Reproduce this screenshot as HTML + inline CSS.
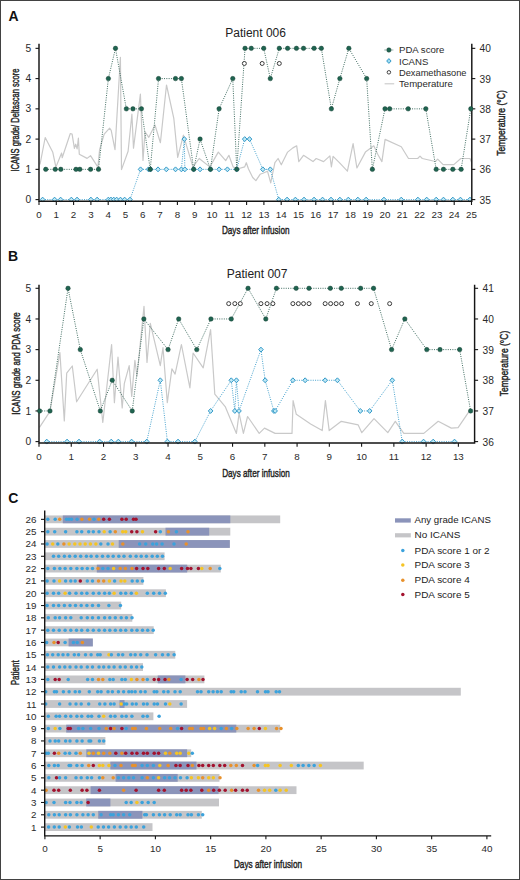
<!DOCTYPE html><html><head><meta charset="utf-8"><style>html,body{margin:0;padding:0;background:#fff;width:520px;height:880px;overflow:hidden;}svg{display:block;}text{font-family:"Liberation Sans", sans-serif;}</style></head><body>
<svg width="520" height="880" viewBox="0 0 520 880">
<rect x="0" y="0" width="520" height="880" fill="#fff"/>
<polyline points="40,164.5 45.2,137.5 52.8,152.3 55.9,167.1 61.6,153 62.2,157.7 70.3,133.5 72.1,134.1 74.4,148.3 75.7,144.2 77.1,148.9 78.4,138.2 79.3,154.3 87.1,158.4 90.5,155.7 97.9,167.1 99.6,149.6 104.2,134.2 109.6,128.1 111.2,130.4 115,149.6 120.4,57.3 121.5,169.6 128.1,151.2 131.9,114.2 133.5,148.1 140.4,94.2 143,160.4 145,131.9 148.8,137.3 155,125 160.4,142.7 166.5,85 173.8,118.3 177.7,157.4 183.4,135.2 192.9,166.9 199.2,158.5 209.8,166.9 218.3,152.1 225.7,160.6 228.9,155.3 233.1,166.9 237.3,169 244.7,166.9 246.3,162.7 248.5,169 252.7,177.5 255.9,180.7 260.1,174.3 262.8,173.3 267.5,171.2 270.7,182.8 274.9,162.7 278.1,158.5 281.3,164.8 287.6,152.1 292.9,147.9 296.7,145.8 298.8,161.6 303.5,155.3 313,161.6 316.2,158.5 323.6,161.6 329.9,155.9 331.4,166.9 333.1,156.4 339.4,162.7 347.4,171.2 353.1,143.7 356.9,168 365.4,152.1 373.8,145.8 377.7,154.2 381.9,161.6 385.1,139.4 401.3,146.8 408.5,158.5 417.7,158.5 420,156.2 422.3,158.5 435.4,161.5 437.7,159.2 443.1,164.6 453.8,164.6 460.8,158.5 470,158.5 471.5,162.3" fill="none" stroke="#c9c9c9" stroke-width="1.2" stroke-linejoin="round"/>
<polyline points="42.63,199.6 54.57,199.6 60.62,199.6 71.35,199.6 77.06,199.6 90.9,199.6 97.13,199.6 108.37,199.6 110.97,199.6 113.74,199.6 116.68,199.6 120.48,199.6 124.64,199.6 130,199.6 140.55,169.35 148.51,169.35 150.59,169.35 158.02,169.35 166.33,169.35 175.5,169.35 181.38,169.35 184.32,139.1 184.84,169.35 193.66,169.35 200.06,169.35 210.44,169.35 219.09,169.35 227.4,169.35 236.74,169.35 244.7,139.1 249.54,139.1 262.86,169.35 270.3,169.35 278.78,199.6 287.08,199.6 295.39,199.6 304.04,199.6 314.07,199.6 322.55,199.6 331.02,199.6 339.85,199.6 348.32,199.6 357.84,199.6 366.14,199.6 383.96,199.6 401.26,199.6 417.87,199.6 426.69,199.6 436.21,199.6 443.47,199.6 452.82,199.6 460.43,199.6 469.94,199.6" fill="none" stroke="#3399c8" stroke-width="0.9" stroke-dasharray="1 1.3"/>
<polyline points="45.75,169.35 55.26,169.35 60.8,169.35 76.02,169.35 79.83,169.35 90.55,169.35 98.51,169.35 108.37,78.6 115.47,48.35 126.36,108.85 132.94,108.85 141.42,108.85 150.24,169.35 158.54,78.6 175.5,78.6 181.38,78.6 193.66,169.35 200.06,139.1 210.44,169.35 219.09,108.85 232.76,78.6 236.74,169.35 245.04,48.35 251.27,48.35 263.73,48.35 270.3,78.6 279.3,48.35 287.6,48.35 296.42,48.35 303.52,48.35 314.07,48.35 321.34,48.35 331.37,108.85 339.85,78.6 348.84,48.35 366.66,78.6 372.37,169.35 385,108.85 389.67,108.85 408.18,108.85 425.83,108.85 436.21,169.35 443.47,169.35 452.82,169.35 461.12,169.35 470.81,108.85" fill="none" stroke="#2b5e50" stroke-width="0.9" stroke-dasharray="1 1.3"/>
<path d="M42.63 197.15L44.93 199.6L42.63 202.05L40.33 199.6Z" fill="#bfe9f6" stroke="#3399c8" stroke-width="1"/>
<path d="M54.57 197.15L56.87 199.6L54.57 202.05L52.27 199.6Z" fill="#bfe9f6" stroke="#3399c8" stroke-width="1"/>
<path d="M60.62 197.15L62.92 199.6L60.62 202.05L58.33 199.6Z" fill="#bfe9f6" stroke="#3399c8" stroke-width="1"/>
<path d="M71.35 197.15L73.65 199.6L71.35 202.05L69.05 199.6Z" fill="#bfe9f6" stroke="#3399c8" stroke-width="1"/>
<path d="M77.06 197.15L79.36 199.6L77.06 202.05L74.76 199.6Z" fill="#bfe9f6" stroke="#3399c8" stroke-width="1"/>
<path d="M90.9 197.15L93.2 199.6L90.9 202.05L88.6 199.6Z" fill="#bfe9f6" stroke="#3399c8" stroke-width="1"/>
<path d="M97.13 197.15L99.43 199.6L97.13 202.05L94.83 199.6Z" fill="#bfe9f6" stroke="#3399c8" stroke-width="1"/>
<path d="M108.37 197.15L110.67 199.6L108.37 202.05L106.07 199.6Z" fill="#bfe9f6" stroke="#3399c8" stroke-width="1"/>
<path d="M110.97 197.15L113.27 199.6L110.97 202.05L108.67 199.6Z" fill="#bfe9f6" stroke="#3399c8" stroke-width="1"/>
<path d="M113.74 197.15L116.04 199.6L113.74 202.05L111.44 199.6Z" fill="#bfe9f6" stroke="#3399c8" stroke-width="1"/>
<path d="M116.68 197.15L118.98 199.6L116.68 202.05L114.38 199.6Z" fill="#bfe9f6" stroke="#3399c8" stroke-width="1"/>
<path d="M120.48 197.15L122.78 199.6L120.48 202.05L118.18 199.6Z" fill="#bfe9f6" stroke="#3399c8" stroke-width="1"/>
<path d="M124.64 197.15L126.94 199.6L124.64 202.05L122.34 199.6Z" fill="#bfe9f6" stroke="#3399c8" stroke-width="1"/>
<path d="M130 197.15L132.3 199.6L130 202.05L127.7 199.6Z" fill="#bfe9f6" stroke="#3399c8" stroke-width="1"/>
<path d="M140.55 166.9L142.85 169.35L140.55 171.8L138.25 169.35Z" fill="#bfe9f6" stroke="#3399c8" stroke-width="1"/>
<path d="M148.51 166.9L150.81 169.35L148.51 171.8L146.21 169.35Z" fill="#bfe9f6" stroke="#3399c8" stroke-width="1"/>
<path d="M150.59 166.9L152.89 169.35L150.59 171.8L148.28 169.35Z" fill="#bfe9f6" stroke="#3399c8" stroke-width="1"/>
<path d="M158.02 166.9L160.32 169.35L158.02 171.8L155.72 169.35Z" fill="#bfe9f6" stroke="#3399c8" stroke-width="1"/>
<path d="M166.33 166.9L168.63 169.35L166.33 171.8L164.03 169.35Z" fill="#bfe9f6" stroke="#3399c8" stroke-width="1"/>
<path d="M175.5 166.9L177.8 169.35L175.5 171.8L173.2 169.35Z" fill="#bfe9f6" stroke="#3399c8" stroke-width="1"/>
<path d="M181.38 166.9L183.68 169.35L181.38 171.8L179.08 169.35Z" fill="#bfe9f6" stroke="#3399c8" stroke-width="1"/>
<path d="M184.32 136.65L186.62 139.1L184.32 141.55L182.02 139.1Z" fill="#bfe9f6" stroke="#3399c8" stroke-width="1"/>
<path d="M184.84 166.9L187.14 169.35L184.84 171.8L182.54 169.35Z" fill="#bfe9f6" stroke="#3399c8" stroke-width="1"/>
<path d="M193.66 166.9L195.96 169.35L193.66 171.8L191.36 169.35Z" fill="#bfe9f6" stroke="#3399c8" stroke-width="1"/>
<path d="M200.06 166.9L202.36 169.35L200.06 171.8L197.76 169.35Z" fill="#bfe9f6" stroke="#3399c8" stroke-width="1"/>
<path d="M210.44 166.9L212.74 169.35L210.44 171.8L208.14 169.35Z" fill="#bfe9f6" stroke="#3399c8" stroke-width="1"/>
<path d="M219.09 166.9L221.39 169.35L219.09 171.8L216.79 169.35Z" fill="#bfe9f6" stroke="#3399c8" stroke-width="1"/>
<path d="M227.4 166.9L229.7 169.35L227.4 171.8L225.1 169.35Z" fill="#bfe9f6" stroke="#3399c8" stroke-width="1"/>
<path d="M236.74 166.9L239.04 169.35L236.74 171.8L234.44 169.35Z" fill="#bfe9f6" stroke="#3399c8" stroke-width="1"/>
<path d="M244.7 136.65L247 139.1L244.7 141.55L242.4 139.1Z" fill="#bfe9f6" stroke="#3399c8" stroke-width="1"/>
<path d="M249.54 136.65L251.84 139.1L249.54 141.55L247.24 139.1Z" fill="#bfe9f6" stroke="#3399c8" stroke-width="1"/>
<path d="M262.86 166.9L265.16 169.35L262.86 171.8L260.56 169.35Z" fill="#bfe9f6" stroke="#3399c8" stroke-width="1"/>
<path d="M270.3 166.9L272.6 169.35L270.3 171.8L268 169.35Z" fill="#bfe9f6" stroke="#3399c8" stroke-width="1"/>
<path d="M278.78 197.15L281.08 199.6L278.78 202.05L276.48 199.6Z" fill="#bfe9f6" stroke="#3399c8" stroke-width="1"/>
<path d="M287.08 197.15L289.38 199.6L287.08 202.05L284.78 199.6Z" fill="#bfe9f6" stroke="#3399c8" stroke-width="1"/>
<path d="M295.39 197.15L297.69 199.6L295.39 202.05L293.09 199.6Z" fill="#bfe9f6" stroke="#3399c8" stroke-width="1"/>
<path d="M304.04 197.15L306.34 199.6L304.04 202.05L301.74 199.6Z" fill="#bfe9f6" stroke="#3399c8" stroke-width="1"/>
<path d="M314.07 197.15L316.37 199.6L314.07 202.05L311.77 199.6Z" fill="#bfe9f6" stroke="#3399c8" stroke-width="1"/>
<path d="M322.55 197.15L324.85 199.6L322.55 202.05L320.25 199.6Z" fill="#bfe9f6" stroke="#3399c8" stroke-width="1"/>
<path d="M331.02 197.15L333.32 199.6L331.02 202.05L328.72 199.6Z" fill="#bfe9f6" stroke="#3399c8" stroke-width="1"/>
<path d="M339.85 197.15L342.15 199.6L339.85 202.05L337.55 199.6Z" fill="#bfe9f6" stroke="#3399c8" stroke-width="1"/>
<path d="M348.32 197.15L350.62 199.6L348.32 202.05L346.02 199.6Z" fill="#bfe9f6" stroke="#3399c8" stroke-width="1"/>
<path d="M357.84 197.15L360.14 199.6L357.84 202.05L355.54 199.6Z" fill="#bfe9f6" stroke="#3399c8" stroke-width="1"/>
<path d="M366.14 197.15L368.44 199.6L366.14 202.05L363.84 199.6Z" fill="#bfe9f6" stroke="#3399c8" stroke-width="1"/>
<path d="M383.96 197.15L386.26 199.6L383.96 202.05L381.66 199.6Z" fill="#bfe9f6" stroke="#3399c8" stroke-width="1"/>
<path d="M401.26 197.15L403.56 199.6L401.26 202.05L398.96 199.6Z" fill="#bfe9f6" stroke="#3399c8" stroke-width="1"/>
<path d="M417.87 197.15L420.17 199.6L417.87 202.05L415.57 199.6Z" fill="#bfe9f6" stroke="#3399c8" stroke-width="1"/>
<path d="M426.69 197.15L428.99 199.6L426.69 202.05L424.39 199.6Z" fill="#bfe9f6" stroke="#3399c8" stroke-width="1"/>
<path d="M436.21 197.15L438.51 199.6L436.21 202.05L433.91 199.6Z" fill="#bfe9f6" stroke="#3399c8" stroke-width="1"/>
<path d="M443.47 197.15L445.77 199.6L443.47 202.05L441.17 199.6Z" fill="#bfe9f6" stroke="#3399c8" stroke-width="1"/>
<path d="M452.82 197.15L455.12 199.6L452.82 202.05L450.52 199.6Z" fill="#bfe9f6" stroke="#3399c8" stroke-width="1"/>
<path d="M460.43 197.15L462.73 199.6L460.43 202.05L458.13 199.6Z" fill="#bfe9f6" stroke="#3399c8" stroke-width="1"/>
<path d="M469.94 197.15L472.24 199.6L469.94 202.05L467.64 199.6Z" fill="#bfe9f6" stroke="#3399c8" stroke-width="1"/>
<path d="M39 43.8V201.2H471.8V43.8" fill="none" stroke="#151515" stroke-width="1.45"/>
<path d="M35.5 199.6H39" stroke="#151515" stroke-width="1.1"/>
<text x="28.4" y="203.2" font-size="10.2" text-anchor="middle" fill="#2a2a2a" >0</text>
<path d="M35.5 169.35H39" stroke="#151515" stroke-width="1.1"/>
<text x="28.4" y="172.95" font-size="10.2" text-anchor="middle" fill="#2a2a2a" >1</text>
<path d="M35.5 139.1H39" stroke="#151515" stroke-width="1.1"/>
<text x="28.4" y="142.7" font-size="10.2" text-anchor="middle" fill="#2a2a2a" >2</text>
<path d="M35.5 108.85H39" stroke="#151515" stroke-width="1.1"/>
<text x="28.4" y="112.45" font-size="10.2" text-anchor="middle" fill="#2a2a2a" >3</text>
<path d="M35.5 78.6H39" stroke="#151515" stroke-width="1.1"/>
<text x="28.4" y="82.2" font-size="10.2" text-anchor="middle" fill="#2a2a2a" >4</text>
<path d="M35.5 48.35H39" stroke="#151515" stroke-width="1.1"/>
<text x="28.4" y="51.95" font-size="10.2" text-anchor="middle" fill="#2a2a2a" >5</text>
<path d="M471.8 199.6H475.3" stroke="#151515" stroke-width="1.1"/>
<text x="479.5" y="203.6" font-size="10.2" text-anchor="start" fill="#2a2a2a" >35</text>
<path d="M471.8 169.35H475.3" stroke="#151515" stroke-width="1.1"/>
<text x="479.5" y="173.35" font-size="10.2" text-anchor="start" fill="#2a2a2a" >36</text>
<path d="M471.8 139.1H475.3" stroke="#151515" stroke-width="1.1"/>
<text x="479.5" y="143.1" font-size="10.2" text-anchor="start" fill="#2a2a2a" >37</text>
<path d="M471.8 108.85H475.3" stroke="#151515" stroke-width="1.1"/>
<text x="479.5" y="112.85" font-size="10.2" text-anchor="start" fill="#2a2a2a" >38</text>
<path d="M471.8 78.6H475.3" stroke="#151515" stroke-width="1.1"/>
<text x="479.5" y="82.6" font-size="10.2" text-anchor="start" fill="#2a2a2a" >39</text>
<path d="M471.8 48.35H475.3" stroke="#151515" stroke-width="1.1"/>
<text x="479.5" y="52.35" font-size="10.2" text-anchor="start" fill="#2a2a2a" >40</text>
<path d="M39 201.2V205" stroke="#151515" stroke-width="1.1"/>
<text x="39" y="217.8" font-size="9.8" text-anchor="middle" fill="#2a2a2a" >0</text>
<path d="M56.3 201.2V205" stroke="#151515" stroke-width="1.1"/>
<text x="56.3" y="217.8" font-size="9.8" text-anchor="middle" fill="#2a2a2a" >1</text>
<path d="M73.6 201.2V205" stroke="#151515" stroke-width="1.1"/>
<text x="73.6" y="217.8" font-size="9.8" text-anchor="middle" fill="#2a2a2a" >2</text>
<path d="M90.9 201.2V205" stroke="#151515" stroke-width="1.1"/>
<text x="90.9" y="217.8" font-size="9.8" text-anchor="middle" fill="#2a2a2a" >3</text>
<path d="M108.2 201.2V205" stroke="#151515" stroke-width="1.1"/>
<text x="108.2" y="217.8" font-size="9.8" text-anchor="middle" fill="#2a2a2a" >4</text>
<path d="M125.5 201.2V205" stroke="#151515" stroke-width="1.1"/>
<text x="125.5" y="217.8" font-size="9.8" text-anchor="middle" fill="#2a2a2a" >5</text>
<path d="M142.8 201.2V205" stroke="#151515" stroke-width="1.1"/>
<text x="142.8" y="217.8" font-size="9.8" text-anchor="middle" fill="#2a2a2a" >6</text>
<path d="M160.1 201.2V205" stroke="#151515" stroke-width="1.1"/>
<text x="160.1" y="217.8" font-size="9.8" text-anchor="middle" fill="#2a2a2a" >7</text>
<path d="M177.4 201.2V205" stroke="#151515" stroke-width="1.1"/>
<text x="177.4" y="217.8" font-size="9.8" text-anchor="middle" fill="#2a2a2a" >8</text>
<path d="M194.7 201.2V205" stroke="#151515" stroke-width="1.1"/>
<text x="194.7" y="217.8" font-size="9.8" text-anchor="middle" fill="#2a2a2a" >9</text>
<path d="M212 201.2V205" stroke="#151515" stroke-width="1.1"/>
<text x="212" y="217.8" font-size="9.8" text-anchor="middle" fill="#2a2a2a" >10</text>
<path d="M229.3 201.2V205" stroke="#151515" stroke-width="1.1"/>
<text x="229.3" y="217.8" font-size="9.8" text-anchor="middle" fill="#2a2a2a" >11</text>
<path d="M246.6 201.2V205" stroke="#151515" stroke-width="1.1"/>
<text x="246.6" y="217.8" font-size="9.8" text-anchor="middle" fill="#2a2a2a" >12</text>
<path d="M263.9 201.2V205" stroke="#151515" stroke-width="1.1"/>
<text x="263.9" y="217.8" font-size="9.8" text-anchor="middle" fill="#2a2a2a" >13</text>
<path d="M281.2 201.2V205" stroke="#151515" stroke-width="1.1"/>
<text x="281.2" y="217.8" font-size="9.8" text-anchor="middle" fill="#2a2a2a" >14</text>
<path d="M298.5 201.2V205" stroke="#151515" stroke-width="1.1"/>
<text x="298.5" y="217.8" font-size="9.8" text-anchor="middle" fill="#2a2a2a" >15</text>
<path d="M315.8 201.2V205" stroke="#151515" stroke-width="1.1"/>
<text x="315.8" y="217.8" font-size="9.8" text-anchor="middle" fill="#2a2a2a" >16</text>
<path d="M333.1 201.2V205" stroke="#151515" stroke-width="1.1"/>
<text x="333.1" y="217.8" font-size="9.8" text-anchor="middle" fill="#2a2a2a" >17</text>
<path d="M350.4 201.2V205" stroke="#151515" stroke-width="1.1"/>
<text x="350.4" y="217.8" font-size="9.8" text-anchor="middle" fill="#2a2a2a" >18</text>
<path d="M367.7 201.2V205" stroke="#151515" stroke-width="1.1"/>
<text x="367.7" y="217.8" font-size="9.8" text-anchor="middle" fill="#2a2a2a" >19</text>
<path d="M385 201.2V205" stroke="#151515" stroke-width="1.1"/>
<text x="385" y="217.8" font-size="9.8" text-anchor="middle" fill="#2a2a2a" >20</text>
<path d="M402.3 201.2V205" stroke="#151515" stroke-width="1.1"/>
<text x="402.3" y="217.8" font-size="9.8" text-anchor="middle" fill="#2a2a2a" >21</text>
<path d="M419.6 201.2V205" stroke="#151515" stroke-width="1.1"/>
<text x="419.6" y="217.8" font-size="9.8" text-anchor="middle" fill="#2a2a2a" >22</text>
<path d="M436.9 201.2V205" stroke="#151515" stroke-width="1.1"/>
<text x="436.9" y="217.8" font-size="9.8" text-anchor="middle" fill="#2a2a2a" >23</text>
<path d="M454.2 201.2V205" stroke="#151515" stroke-width="1.1"/>
<text x="454.2" y="217.8" font-size="9.8" text-anchor="middle" fill="#2a2a2a" >24</text>
<path d="M471.5 201.2V205" stroke="#151515" stroke-width="1.1"/>
<text x="471.5" y="217.8" font-size="9.8" text-anchor="middle" fill="#2a2a2a" >25</text>
<circle cx="244.35" cy="63.47" r="2.0" fill="#fff" stroke="#3a3a3a" stroke-width="1.0"/>
<circle cx="262.17" cy="63.47" r="2.0" fill="#fff" stroke="#3a3a3a" stroke-width="1.0"/>
<circle cx="279.3" cy="63.47" r="2.0" fill="#fff" stroke="#3a3a3a" stroke-width="1.0"/>
<circle cx="45.75" cy="169.35" r="2.25" fill="#1f6450" stroke="#173f34" stroke-width="0.45"/>
<circle cx="55.26" cy="169.35" r="2.25" fill="#1f6450" stroke="#173f34" stroke-width="0.45"/>
<circle cx="60.8" cy="169.35" r="2.25" fill="#1f6450" stroke="#173f34" stroke-width="0.45"/>
<circle cx="76.02" cy="169.35" r="2.25" fill="#1f6450" stroke="#173f34" stroke-width="0.45"/>
<circle cx="79.83" cy="169.35" r="2.25" fill="#1f6450" stroke="#173f34" stroke-width="0.45"/>
<circle cx="90.55" cy="169.35" r="2.25" fill="#1f6450" stroke="#173f34" stroke-width="0.45"/>
<circle cx="98.51" cy="169.35" r="2.25" fill="#1f6450" stroke="#173f34" stroke-width="0.45"/>
<circle cx="108.37" cy="78.6" r="2.25" fill="#1f6450" stroke="#173f34" stroke-width="0.45"/>
<circle cx="115.47" cy="48.35" r="2.25" fill="#1f6450" stroke="#173f34" stroke-width="0.45"/>
<circle cx="126.36" cy="108.85" r="2.25" fill="#1f6450" stroke="#173f34" stroke-width="0.45"/>
<circle cx="132.94" cy="108.85" r="2.25" fill="#1f6450" stroke="#173f34" stroke-width="0.45"/>
<circle cx="141.42" cy="108.85" r="2.25" fill="#1f6450" stroke="#173f34" stroke-width="0.45"/>
<circle cx="150.24" cy="169.35" r="2.25" fill="#1f6450" stroke="#173f34" stroke-width="0.45"/>
<circle cx="158.54" cy="78.6" r="2.25" fill="#1f6450" stroke="#173f34" stroke-width="0.45"/>
<circle cx="175.5" cy="78.6" r="2.25" fill="#1f6450" stroke="#173f34" stroke-width="0.45"/>
<circle cx="181.38" cy="78.6" r="2.25" fill="#1f6450" stroke="#173f34" stroke-width="0.45"/>
<circle cx="193.66" cy="169.35" r="2.25" fill="#1f6450" stroke="#173f34" stroke-width="0.45"/>
<circle cx="200.06" cy="139.1" r="2.25" fill="#1f6450" stroke="#173f34" stroke-width="0.45"/>
<circle cx="210.44" cy="169.35" r="2.25" fill="#1f6450" stroke="#173f34" stroke-width="0.45"/>
<circle cx="219.09" cy="108.85" r="2.25" fill="#1f6450" stroke="#173f34" stroke-width="0.45"/>
<circle cx="232.76" cy="78.6" r="2.25" fill="#1f6450" stroke="#173f34" stroke-width="0.45"/>
<circle cx="236.74" cy="169.35" r="2.25" fill="#1f6450" stroke="#173f34" stroke-width="0.45"/>
<circle cx="245.04" cy="48.35" r="2.25" fill="#1f6450" stroke="#173f34" stroke-width="0.45"/>
<circle cx="251.27" cy="48.35" r="2.25" fill="#1f6450" stroke="#173f34" stroke-width="0.45"/>
<circle cx="263.73" cy="48.35" r="2.25" fill="#1f6450" stroke="#173f34" stroke-width="0.45"/>
<circle cx="270.3" cy="78.6" r="2.25" fill="#1f6450" stroke="#173f34" stroke-width="0.45"/>
<circle cx="279.3" cy="48.35" r="2.25" fill="#1f6450" stroke="#173f34" stroke-width="0.45"/>
<circle cx="287.6" cy="48.35" r="2.25" fill="#1f6450" stroke="#173f34" stroke-width="0.45"/>
<circle cx="296.42" cy="48.35" r="2.25" fill="#1f6450" stroke="#173f34" stroke-width="0.45"/>
<circle cx="303.52" cy="48.35" r="2.25" fill="#1f6450" stroke="#173f34" stroke-width="0.45"/>
<circle cx="314.07" cy="48.35" r="2.25" fill="#1f6450" stroke="#173f34" stroke-width="0.45"/>
<circle cx="321.34" cy="48.35" r="2.25" fill="#1f6450" stroke="#173f34" stroke-width="0.45"/>
<circle cx="331.37" cy="108.85" r="2.25" fill="#1f6450" stroke="#173f34" stroke-width="0.45"/>
<circle cx="339.85" cy="78.6" r="2.25" fill="#1f6450" stroke="#173f34" stroke-width="0.45"/>
<circle cx="348.84" cy="48.35" r="2.25" fill="#1f6450" stroke="#173f34" stroke-width="0.45"/>
<circle cx="366.66" cy="78.6" r="2.25" fill="#1f6450" stroke="#173f34" stroke-width="0.45"/>
<circle cx="372.37" cy="169.35" r="2.25" fill="#1f6450" stroke="#173f34" stroke-width="0.45"/>
<circle cx="385" cy="108.85" r="2.25" fill="#1f6450" stroke="#173f34" stroke-width="0.45"/>
<circle cx="389.67" cy="108.85" r="2.25" fill="#1f6450" stroke="#173f34" stroke-width="0.45"/>
<circle cx="408.18" cy="108.85" r="2.25" fill="#1f6450" stroke="#173f34" stroke-width="0.45"/>
<circle cx="425.83" cy="108.85" r="2.25" fill="#1f6450" stroke="#173f34" stroke-width="0.45"/>
<circle cx="436.21" cy="169.35" r="2.25" fill="#1f6450" stroke="#173f34" stroke-width="0.45"/>
<circle cx="443.47" cy="169.35" r="2.25" fill="#1f6450" stroke="#173f34" stroke-width="0.45"/>
<circle cx="452.82" cy="169.35" r="2.25" fill="#1f6450" stroke="#173f34" stroke-width="0.45"/>
<circle cx="461.12" cy="169.35" r="2.25" fill="#1f6450" stroke="#173f34" stroke-width="0.45"/>
<circle cx="470.81" cy="108.85" r="2.25" fill="#1f6450" stroke="#173f34" stroke-width="0.45"/>
<text x="8.4" y="20.8" font-size="14" text-anchor="start" fill="#111" font-weight="bold" >A</text>
<text x="255.6" y="36.6" font-size="12" text-anchor="middle" fill="#222" >Patient 006</text>
<text x="19" y="120" font-size="11.3" text-anchor="middle" fill="#222" textLength="103" lengthAdjust="spacingAndGlyphs" transform="rotate(-90 19 120)" stroke="#222" stroke-width="0.42" >ICANS grade/ Deltascan score</text>
<text x="505.2" y="123" font-size="11.2" text-anchor="middle" fill="#222" textLength="65.5" lengthAdjust="spacingAndGlyphs" transform="rotate(-90 505.2 123)" stroke="#222" stroke-width="0.42" >Temperature (°C)</text>
<text x="255.7" y="234.3" font-size="11.6" text-anchor="middle" fill="#222" textLength="67.6" lengthAdjust="spacingAndGlyphs" stroke="#222" stroke-width="0.42" >Days after infusion</text>
<path d="M384.6 50H394" stroke="#2b5e50" stroke-width="0.9" stroke-dasharray="1 1.3"/>
<circle cx="388.9" cy="50" r="2.25" fill="#1f6450" stroke="#173f34" stroke-width="0.45"/>
<path d="M388.9 58.6L391.1 61L388.9 63.4L386.7 61Z" fill="#9fdcf2" stroke="#3399c8" stroke-width="1"/>
<circle cx="388.9" cy="72.3" r="1.75" fill="#fff" stroke="#3a3a3a" stroke-width="0.95"/>
<path d="M384.6 83.8H394.2" stroke="#c9c9c9" stroke-width="1.1"/>
<text x="399" y="53.4" font-size="9.6" text-anchor="start" fill="#2a2a2a" >PDA score</text>
<text x="399" y="64.6" font-size="9.6" text-anchor="start" fill="#2a2a2a" >ICANS</text>
<text x="399" y="75.7" font-size="9.6" text-anchor="start" fill="#2a2a2a" textLength="67.5" lengthAdjust="spacingAndGlyphs" >Dexamethasone</text>
<text x="399" y="87.2" font-size="9.6" text-anchor="start" fill="#2a2a2a" >Temperature</text>
<polyline points="39.5,427.3 50,411.4 59.9,352.5 64.3,420.9 66.7,373.2 72.3,366 76.6,401.8 97.2,369.2 102.8,422.5 111.6,344.5 114.4,402.7 118,357.2 122.2,408 124.3,383.7 129.2,365.7 131.7,396.4 134.9,360.4 137,376.3 144,306.4 147,362.5 150.3,323.4 160.3,365.7 163,347.7 167.3,402.7 171.9,368.9 175.1,374.1 181.4,344.5 189.9,387.9 193.1,353 203.2,367.8 210.6,329.7 214.8,394.2 225.4,406.9 236.4,433.4 239.1,413.3 243.4,433.4 247.6,416.5 259.2,433.4 264.5,428.1 275.1,433.4 292,433.4 293.1,400.6 296.3,414.3 310.6,423.9 322.2,430.6 325.4,400.6 329.2,430.6 341.3,421.3 358.2,424.9 361.8,432.7 374,418.6 387.8,432.7 395.3,421.3 403.8,433.4 423.8,433.4 438.2,421.3 451.3,428.1 458.1,427.7 470,410.1" fill="none" stroke="#c9c9c9" stroke-width="1.2" stroke-linejoin="round"/>
<polyline points="46.74,441.6 67.07,441.6 79,441.6 99.65,441.6 111.26,441.6 118.36,441.6 131.59,441.6 146.75,441.6 160.3,380.28 167.39,441.6 178.04,441.6 194.82,441.6 210.62,410.94 231.27,380.28 234.82,410.94 236.43,380.28 239.01,410.94 260.95,349.62 265.14,380.28 273.85,410.94 275.14,410.94 292.89,380.28 305.14,380.28 325.15,380.28 337.4,380.28 360.31,410.94 369.66,410.94 392.25,380.28 402.25,441.6 423.54,441.6 433.22,441.6 454.51,441.6" fill="none" stroke="#3399c8" stroke-width="0.9" stroke-dasharray="1 1.3"/>
<polyline points="39.65,410.94 49.97,410.94 68.03,288.3 80.29,349.62 100.29,410.94 112.23,380.28 132.23,410.94 143.84,318.96 168.04,349.62 178.69,318.96 196.75,349.62 210.95,318.96 231.27,318.96 248.04,288.3 265.79,318.96 276.43,288.3 296.11,288.3 309.02,288.3 330.31,288.3 341.28,288.3 360.63,288.3 373.54,288.3 391.6,349.62 404.83,318.96 426.77,349.62 439.99,349.62 459.67,349.62 470.64,410.94" fill="none" stroke="#2b5e50" stroke-width="0.9" stroke-dasharray="1 1.3"/>
<path d="M46.74 439.15L49.04 441.6L46.74 444.05L44.44 441.6Z" fill="#bfe9f6" stroke="#3399c8" stroke-width="1"/>
<path d="M67.07 439.15L69.37 441.6L67.07 444.05L64.77 441.6Z" fill="#bfe9f6" stroke="#3399c8" stroke-width="1"/>
<path d="M79 439.15L81.3 441.6L79 444.05L76.7 441.6Z" fill="#bfe9f6" stroke="#3399c8" stroke-width="1"/>
<path d="M99.65 439.15L101.95 441.6L99.65 444.05L97.35 441.6Z" fill="#bfe9f6" stroke="#3399c8" stroke-width="1"/>
<path d="M111.26 439.15L113.56 441.6L111.26 444.05L108.96 441.6Z" fill="#bfe9f6" stroke="#3399c8" stroke-width="1"/>
<path d="M118.36 439.15L120.66 441.6L118.36 444.05L116.06 441.6Z" fill="#bfe9f6" stroke="#3399c8" stroke-width="1"/>
<path d="M131.59 439.15L133.89 441.6L131.59 444.05L129.29 441.6Z" fill="#bfe9f6" stroke="#3399c8" stroke-width="1"/>
<path d="M146.75 439.15L149.05 441.6L146.75 444.05L144.45 441.6Z" fill="#bfe9f6" stroke="#3399c8" stroke-width="1"/>
<path d="M160.3 377.83L162.6 380.28L160.3 382.73L158 380.28Z" fill="#bfe9f6" stroke="#3399c8" stroke-width="1"/>
<path d="M167.39 439.15L169.69 441.6L167.39 444.05L165.09 441.6Z" fill="#bfe9f6" stroke="#3399c8" stroke-width="1"/>
<path d="M178.04 439.15L180.34 441.6L178.04 444.05L175.74 441.6Z" fill="#bfe9f6" stroke="#3399c8" stroke-width="1"/>
<path d="M194.82 439.15L197.12 441.6L194.82 444.05L192.52 441.6Z" fill="#bfe9f6" stroke="#3399c8" stroke-width="1"/>
<path d="M210.62 408.49L212.92 410.94L210.62 413.39L208.32 410.94Z" fill="#bfe9f6" stroke="#3399c8" stroke-width="1"/>
<path d="M231.27 377.83L233.57 380.28L231.27 382.73L228.97 380.28Z" fill="#bfe9f6" stroke="#3399c8" stroke-width="1"/>
<path d="M234.82 408.49L237.12 410.94L234.82 413.39L232.52 410.94Z" fill="#bfe9f6" stroke="#3399c8" stroke-width="1"/>
<path d="M236.43 377.83L238.73 380.28L236.43 382.73L234.13 380.28Z" fill="#bfe9f6" stroke="#3399c8" stroke-width="1"/>
<path d="M239.01 408.49L241.31 410.94L239.01 413.39L236.71 410.94Z" fill="#bfe9f6" stroke="#3399c8" stroke-width="1"/>
<path d="M260.95 347.17L263.25 349.62L260.95 352.07L258.65 349.62Z" fill="#bfe9f6" stroke="#3399c8" stroke-width="1"/>
<path d="M265.14 377.83L267.44 380.28L265.14 382.73L262.84 380.28Z" fill="#bfe9f6" stroke="#3399c8" stroke-width="1"/>
<path d="M273.85 408.49L276.15 410.94L273.85 413.39L271.55 410.94Z" fill="#bfe9f6" stroke="#3399c8" stroke-width="1"/>
<path d="M275.14 408.49L277.44 410.94L275.14 413.39L272.84 410.94Z" fill="#bfe9f6" stroke="#3399c8" stroke-width="1"/>
<path d="M292.89 377.83L295.19 380.28L292.89 382.73L290.59 380.28Z" fill="#bfe9f6" stroke="#3399c8" stroke-width="1"/>
<path d="M305.14 377.83L307.44 380.28L305.14 382.73L302.84 380.28Z" fill="#bfe9f6" stroke="#3399c8" stroke-width="1"/>
<path d="M325.15 377.83L327.45 380.28L325.15 382.73L322.85 380.28Z" fill="#bfe9f6" stroke="#3399c8" stroke-width="1"/>
<path d="M337.4 377.83L339.7 380.28L337.4 382.73L335.1 380.28Z" fill="#bfe9f6" stroke="#3399c8" stroke-width="1"/>
<path d="M360.31 408.49L362.61 410.94L360.31 413.39L358.01 410.94Z" fill="#bfe9f6" stroke="#3399c8" stroke-width="1"/>
<path d="M369.66 408.49L371.96 410.94L369.66 413.39L367.36 410.94Z" fill="#bfe9f6" stroke="#3399c8" stroke-width="1"/>
<path d="M392.25 377.83L394.55 380.28L392.25 382.73L389.95 380.28Z" fill="#bfe9f6" stroke="#3399c8" stroke-width="1"/>
<path d="M402.25 439.15L404.55 441.6L402.25 444.05L399.95 441.6Z" fill="#bfe9f6" stroke="#3399c8" stroke-width="1"/>
<path d="M423.54 439.15L425.84 441.6L423.54 444.05L421.24 441.6Z" fill="#bfe9f6" stroke="#3399c8" stroke-width="1"/>
<path d="M433.22 439.15L435.52 441.6L433.22 444.05L430.92 441.6Z" fill="#bfe9f6" stroke="#3399c8" stroke-width="1"/>
<path d="M454.51 439.15L456.81 441.6L454.51 444.05L452.21 441.6Z" fill="#bfe9f6" stroke="#3399c8" stroke-width="1"/>
<path d="M39 284.8V443H474.6V284.8" fill="none" stroke="#151515" stroke-width="1.45"/>
<path d="M35.5 441.6H39" stroke="#151515" stroke-width="1.1"/>
<text x="28.4" y="445.2" font-size="10.2" text-anchor="middle" fill="#2a2a2a" >0</text>
<path d="M35.5 410.94H39" stroke="#151515" stroke-width="1.1"/>
<text x="28.4" y="414.54" font-size="10.2" text-anchor="middle" fill="#2a2a2a" >1</text>
<path d="M35.5 380.28H39" stroke="#151515" stroke-width="1.1"/>
<text x="28.4" y="383.88" font-size="10.2" text-anchor="middle" fill="#2a2a2a" >2</text>
<path d="M35.5 349.62H39" stroke="#151515" stroke-width="1.1"/>
<text x="28.4" y="353.22" font-size="10.2" text-anchor="middle" fill="#2a2a2a" >3</text>
<path d="M35.5 318.96H39" stroke="#151515" stroke-width="1.1"/>
<text x="28.4" y="322.56" font-size="10.2" text-anchor="middle" fill="#2a2a2a" >4</text>
<path d="M35.5 288.3H39" stroke="#151515" stroke-width="1.1"/>
<text x="28.4" y="291.9" font-size="10.2" text-anchor="middle" fill="#2a2a2a" >5</text>
<path d="M474.6 441.6H478.1" stroke="#151515" stroke-width="1.1"/>
<text x="482.5" y="445.6" font-size="10.2" text-anchor="start" fill="#2a2a2a" >36</text>
<path d="M474.6 410.94H478.1" stroke="#151515" stroke-width="1.1"/>
<text x="482.5" y="414.94" font-size="10.2" text-anchor="start" fill="#2a2a2a" >37</text>
<path d="M474.6 380.28H478.1" stroke="#151515" stroke-width="1.1"/>
<text x="482.5" y="384.28" font-size="10.2" text-anchor="start" fill="#2a2a2a" >38</text>
<path d="M474.6 349.62H478.1" stroke="#151515" stroke-width="1.1"/>
<text x="482.5" y="353.62" font-size="10.2" text-anchor="start" fill="#2a2a2a" >39</text>
<path d="M474.6 318.96H478.1" stroke="#151515" stroke-width="1.1"/>
<text x="482.5" y="322.96" font-size="10.2" text-anchor="start" fill="#2a2a2a" >40</text>
<path d="M474.6 288.3H478.1" stroke="#151515" stroke-width="1.1"/>
<text x="482.5" y="292.3" font-size="10.2" text-anchor="start" fill="#2a2a2a" >41</text>
<path d="M39 443V446.8" stroke="#151515" stroke-width="1.1"/>
<text x="39" y="459.6" font-size="9.8" text-anchor="middle" fill="#2a2a2a" >0</text>
<path d="M71.26 443V446.8" stroke="#151515" stroke-width="1.1"/>
<text x="71.26" y="459.6" font-size="9.8" text-anchor="middle" fill="#2a2a2a" >1</text>
<path d="M103.52 443V446.8" stroke="#151515" stroke-width="1.1"/>
<text x="103.52" y="459.6" font-size="9.8" text-anchor="middle" fill="#2a2a2a" >2</text>
<path d="M135.78 443V446.8" stroke="#151515" stroke-width="1.1"/>
<text x="135.78" y="459.6" font-size="9.8" text-anchor="middle" fill="#2a2a2a" >3</text>
<path d="M168.04 443V446.8" stroke="#151515" stroke-width="1.1"/>
<text x="168.04" y="459.6" font-size="9.8" text-anchor="middle" fill="#2a2a2a" >4</text>
<path d="M200.3 443V446.8" stroke="#151515" stroke-width="1.1"/>
<text x="200.3" y="459.6" font-size="9.8" text-anchor="middle" fill="#2a2a2a" >5</text>
<path d="M232.56 443V446.8" stroke="#151515" stroke-width="1.1"/>
<text x="232.56" y="459.6" font-size="9.8" text-anchor="middle" fill="#2a2a2a" >6</text>
<path d="M264.82 443V446.8" stroke="#151515" stroke-width="1.1"/>
<text x="264.82" y="459.6" font-size="9.8" text-anchor="middle" fill="#2a2a2a" >7</text>
<path d="M297.08 443V446.8" stroke="#151515" stroke-width="1.1"/>
<text x="297.08" y="459.6" font-size="9.8" text-anchor="middle" fill="#2a2a2a" >8</text>
<path d="M329.34 443V446.8" stroke="#151515" stroke-width="1.1"/>
<text x="329.34" y="459.6" font-size="9.8" text-anchor="middle" fill="#2a2a2a" >9</text>
<path d="M361.6 443V446.8" stroke="#151515" stroke-width="1.1"/>
<text x="361.6" y="459.6" font-size="9.8" text-anchor="middle" fill="#2a2a2a" >10</text>
<path d="M393.86 443V446.8" stroke="#151515" stroke-width="1.1"/>
<text x="393.86" y="459.6" font-size="9.8" text-anchor="middle" fill="#2a2a2a" >11</text>
<path d="M426.12 443V446.8" stroke="#151515" stroke-width="1.1"/>
<text x="426.12" y="459.6" font-size="9.8" text-anchor="middle" fill="#2a2a2a" >12</text>
<path d="M458.38 443V446.8" stroke="#151515" stroke-width="1.1"/>
<text x="458.38" y="459.6" font-size="9.8" text-anchor="middle" fill="#2a2a2a" >13</text>
<circle cx="228.69" cy="303.63" r="2.0" fill="#fff" stroke="#3a3a3a" stroke-width="1.0"/>
<circle cx="234.82" cy="303.63" r="2.0" fill="#fff" stroke="#3a3a3a" stroke-width="1.0"/>
<circle cx="240.3" cy="303.63" r="2.0" fill="#fff" stroke="#3a3a3a" stroke-width="1.0"/>
<circle cx="260.95" cy="303.63" r="2.0" fill="#fff" stroke="#3a3a3a" stroke-width="1.0"/>
<circle cx="267.08" cy="303.63" r="2.0" fill="#fff" stroke="#3a3a3a" stroke-width="1.0"/>
<circle cx="272.88" cy="303.63" r="2.0" fill="#fff" stroke="#3a3a3a" stroke-width="1.0"/>
<circle cx="292.89" cy="303.63" r="2.0" fill="#fff" stroke="#3a3a3a" stroke-width="1.0"/>
<circle cx="298.37" cy="303.63" r="2.0" fill="#fff" stroke="#3a3a3a" stroke-width="1.0"/>
<circle cx="303.53" cy="303.63" r="2.0" fill="#fff" stroke="#3a3a3a" stroke-width="1.0"/>
<circle cx="309.02" cy="303.63" r="2.0" fill="#fff" stroke="#3a3a3a" stroke-width="1.0"/>
<circle cx="325.15" cy="303.63" r="2.0" fill="#fff" stroke="#3a3a3a" stroke-width="1.0"/>
<circle cx="330.63" cy="303.63" r="2.0" fill="#fff" stroke="#3a3a3a" stroke-width="1.0"/>
<circle cx="336.11" cy="303.63" r="2.0" fill="#fff" stroke="#3a3a3a" stroke-width="1.0"/>
<circle cx="341.6" cy="303.63" r="2.0" fill="#fff" stroke="#3a3a3a" stroke-width="1.0"/>
<circle cx="357.41" cy="303.63" r="2.0" fill="#fff" stroke="#3a3a3a" stroke-width="1.0"/>
<circle cx="371.28" cy="303.63" r="2.0" fill="#fff" stroke="#3a3a3a" stroke-width="1.0"/>
<circle cx="389.67" cy="303.63" r="2.0" fill="#fff" stroke="#3a3a3a" stroke-width="1.0"/>
<circle cx="39.65" cy="410.94" r="2.25" fill="#1f6450" stroke="#173f34" stroke-width="0.45"/>
<circle cx="49.97" cy="410.94" r="2.25" fill="#1f6450" stroke="#173f34" stroke-width="0.45"/>
<circle cx="68.03" cy="288.3" r="2.25" fill="#1f6450" stroke="#173f34" stroke-width="0.45"/>
<circle cx="80.29" cy="349.62" r="2.25" fill="#1f6450" stroke="#173f34" stroke-width="0.45"/>
<circle cx="100.29" cy="410.94" r="2.25" fill="#1f6450" stroke="#173f34" stroke-width="0.45"/>
<circle cx="112.23" cy="380.28" r="2.25" fill="#1f6450" stroke="#173f34" stroke-width="0.45"/>
<circle cx="132.23" cy="410.94" r="2.25" fill="#1f6450" stroke="#173f34" stroke-width="0.45"/>
<circle cx="143.84" cy="318.96" r="2.25" fill="#1f6450" stroke="#173f34" stroke-width="0.45"/>
<circle cx="168.04" cy="349.62" r="2.25" fill="#1f6450" stroke="#173f34" stroke-width="0.45"/>
<circle cx="178.69" cy="318.96" r="2.25" fill="#1f6450" stroke="#173f34" stroke-width="0.45"/>
<circle cx="196.75" cy="349.62" r="2.25" fill="#1f6450" stroke="#173f34" stroke-width="0.45"/>
<circle cx="210.95" cy="318.96" r="2.25" fill="#1f6450" stroke="#173f34" stroke-width="0.45"/>
<circle cx="231.27" cy="318.96" r="2.25" fill="#1f6450" stroke="#173f34" stroke-width="0.45"/>
<circle cx="248.04" cy="288.3" r="2.25" fill="#1f6450" stroke="#173f34" stroke-width="0.45"/>
<circle cx="265.79" cy="318.96" r="2.25" fill="#1f6450" stroke="#173f34" stroke-width="0.45"/>
<circle cx="276.43" cy="288.3" r="2.25" fill="#1f6450" stroke="#173f34" stroke-width="0.45"/>
<circle cx="296.11" cy="288.3" r="2.25" fill="#1f6450" stroke="#173f34" stroke-width="0.45"/>
<circle cx="309.02" cy="288.3" r="2.25" fill="#1f6450" stroke="#173f34" stroke-width="0.45"/>
<circle cx="330.31" cy="288.3" r="2.25" fill="#1f6450" stroke="#173f34" stroke-width="0.45"/>
<circle cx="341.28" cy="288.3" r="2.25" fill="#1f6450" stroke="#173f34" stroke-width="0.45"/>
<circle cx="360.63" cy="288.3" r="2.25" fill="#1f6450" stroke="#173f34" stroke-width="0.45"/>
<circle cx="373.54" cy="288.3" r="2.25" fill="#1f6450" stroke="#173f34" stroke-width="0.45"/>
<circle cx="391.6" cy="349.62" r="2.25" fill="#1f6450" stroke="#173f34" stroke-width="0.45"/>
<circle cx="404.83" cy="318.96" r="2.25" fill="#1f6450" stroke="#173f34" stroke-width="0.45"/>
<circle cx="426.77" cy="349.62" r="2.25" fill="#1f6450" stroke="#173f34" stroke-width="0.45"/>
<circle cx="439.99" cy="349.62" r="2.25" fill="#1f6450" stroke="#173f34" stroke-width="0.45"/>
<circle cx="459.67" cy="349.62" r="2.25" fill="#1f6450" stroke="#173f34" stroke-width="0.45"/>
<circle cx="470.64" cy="410.94" r="2.25" fill="#1f6450" stroke="#173f34" stroke-width="0.45"/>
<text x="8.1" y="260.9" font-size="14" text-anchor="start" fill="#111" font-weight="bold" >B</text>
<text x="257.1" y="277.6" font-size="12" text-anchor="middle" fill="#222" >Patient 007</text>
<text x="19.5" y="363.5" font-size="11.3" text-anchor="middle" fill="#222" textLength="102.5" lengthAdjust="spacingAndGlyphs" transform="rotate(-90 19.5 363.5)" stroke="#222" stroke-width="0.42" >ICANS grade and PDA score</text>
<text x="507.6" y="363.5" font-size="11.2" text-anchor="middle" fill="#222" textLength="65.5" lengthAdjust="spacingAndGlyphs" transform="rotate(-90 507.6 363.5)" stroke="#222" stroke-width="0.42" >Temperature (°C)</text>
<text x="256" y="476.5" font-size="11.6" text-anchor="middle" fill="#222" textLength="67.6" lengthAdjust="spacingAndGlyphs" stroke="#222" stroke-width="0.42" >Days after infusion</text>
<text x="8.2" y="502.6" font-size="14" text-anchor="start" fill="#111" font-weight="bold" >C</text>
<rect x="44.9" y="823.2" width="107.6" height="7.8" fill="#c5c5c8"/>
<rect x="44.9" y="810.89" width="156.9" height="7.8" fill="#c5c5c8"/>
<rect x="98.2" y="810.89" width="44.2" height="7.8" fill="#8b94ba"/>
<rect x="44.9" y="798.58" width="174.1" height="7.8" fill="#c5c5c8"/>
<rect x="86.2" y="798.58" width="24.2" height="7.8" fill="#8b94ba"/>
<rect x="44.9" y="786.27" width="251.6" height="7.8" fill="#c5c5c8"/>
<rect x="90.6" y="786.27" width="128" height="7.8" fill="#8b94ba"/>
<rect x="44.9" y="773.96" width="174.6" height="7.8" fill="#c5c5c8"/>
<rect x="115.6" y="773.96" width="62.1" height="7.8" fill="#8b94ba"/>
<rect x="44.9" y="761.65" width="318.8" height="7.8" fill="#c5c5c8"/>
<rect x="110.3" y="761.65" width="86.2" height="7.8" fill="#8b94ba"/>
<rect x="44.9" y="749.34" width="146.3" height="7.8" fill="#c5c5c8"/>
<rect x="86.3" y="749.34" width="100.8" height="7.8" fill="#8b94ba"/>
<rect x="44.9" y="737.03" width="60.5" height="7.8" fill="#c5c5c8"/>
<rect x="44.9" y="724.72" width="235.3" height="7.8" fill="#c5c5c8"/>
<rect x="66.2" y="724.72" width="170.1" height="7.8" fill="#8b94ba"/>
<rect x="44.9" y="712.41" width="108.5" height="7.8" fill="#c5c5c8"/>
<rect x="44.9" y="700.1" width="142.2" height="7.8" fill="#c5c5c8"/>
<rect x="119.5" y="700.1" width="5" height="7.8" fill="#8b94ba"/>
<rect x="44.9" y="687.79" width="415.9" height="7.8" fill="#c5c5c8"/>
<rect x="44.9" y="675.48" width="159.5" height="7.8" fill="#c5c5c8"/>
<rect x="157.7" y="675.48" width="27.7" height="7.8" fill="#8b94ba"/>
<rect x="44.9" y="663.17" width="98.1" height="7.8" fill="#c5c5c8"/>
<rect x="44.9" y="650.86" width="130.4" height="7.8" fill="#c5c5c8"/>
<rect x="44.9" y="638.55" width="47.9" height="7.8" fill="#c5c5c8"/>
<rect x="68.6" y="638.55" width="24.2" height="7.8" fill="#8b94ba"/>
<rect x="44.9" y="626.24" width="108.8" height="7.8" fill="#c5c5c8"/>
<rect x="44.9" y="613.93" width="87.4" height="7.8" fill="#c5c5c8"/>
<rect x="44.9" y="601.62" width="76.3" height="7.8" fill="#c5c5c8"/>
<rect x="44.9" y="589.31" width="121" height="7.8" fill="#c5c5c8"/>
<rect x="44.9" y="577" width="98.5" height="7.8" fill="#c5c5c8"/>
<rect x="44.9" y="564.69" width="175.9" height="7.8" fill="#c5c5c8"/>
<rect x="96.8" y="564.69" width="90.4" height="7.8" fill="#8b94ba"/>
<rect x="44.9" y="552.38" width="119.7" height="7.8" fill="#c5c5c8"/>
<rect x="44.9" y="540.07" width="184.9" height="7.8" fill="#c5c5c8"/>
<rect x="118.7" y="540.07" width="111.1" height="7.8" fill="#8b94ba"/>
<rect x="44.9" y="527.76" width="185.4" height="7.8" fill="#c5c5c8"/>
<rect x="165.5" y="527.76" width="43.7" height="7.8" fill="#8b94ba"/>
<rect x="44.9" y="515.45" width="235.3" height="7.8" fill="#c5c5c8"/>
<rect x="62.8" y="515.45" width="167.5" height="7.8" fill="#8b94ba"/>
<circle cx="48.6" cy="827.1" r="1.75" fill="#3ba2dc"/>
<circle cx="54.3" cy="827.1" r="1.75" fill="#3ba2dc"/>
<circle cx="59.2" cy="827.1" r="1.75" fill="#3ba2dc"/>
<circle cx="65.3" cy="827.1" r="1.75" fill="#f5c424"/>
<circle cx="69.4" cy="827.1" r="1.75" fill="#3ba2dc"/>
<circle cx="77.5" cy="827.1" r="1.75" fill="#3ba2dc"/>
<circle cx="81.4" cy="827.1" r="1.75" fill="#3ba2dc"/>
<circle cx="91.3" cy="827.1" r="1.75" fill="#f5c424"/>
<circle cx="98.2" cy="827.1" r="1.75" fill="#3ba2dc"/>
<circle cx="103.5" cy="827.1" r="1.75" fill="#3ba2dc"/>
<circle cx="108.6" cy="827.1" r="1.75" fill="#3ba2dc"/>
<circle cx="114.4" cy="827.1" r="1.75" fill="#3ba2dc"/>
<circle cx="120.2" cy="827.1" r="1.75" fill="#3ba2dc"/>
<circle cx="125.9" cy="827.1" r="1.75" fill="#3ba2dc"/>
<circle cx="131.2" cy="827.1" r="1.75" fill="#3ba2dc"/>
<circle cx="136.3" cy="827.1" r="1.75" fill="#3ba2dc"/>
<circle cx="143.7" cy="827.1" r="1.75" fill="#3ba2dc"/>
<circle cx="48.8" cy="814.79" r="1.75" fill="#3ba2dc"/>
<circle cx="54.4" cy="814.79" r="1.75" fill="#3ba2dc"/>
<circle cx="59.2" cy="814.79" r="1.75" fill="#3ba2dc"/>
<circle cx="65.6" cy="814.79" r="1.75" fill="#3ba2dc"/>
<circle cx="70.4" cy="814.79" r="1.75" fill="#3ba2dc"/>
<circle cx="76.9" cy="814.79" r="1.75" fill="#3ba2dc"/>
<circle cx="82.9" cy="814.79" r="1.75" fill="#3ba2dc"/>
<circle cx="88.1" cy="814.79" r="1.75" fill="#3ba2dc"/>
<circle cx="93.3" cy="814.79" r="1.75" fill="#3ba2dc"/>
<circle cx="101.1" cy="814.79" r="1.75" fill="#3ba2dc"/>
<circle cx="110.6" cy="814.79" r="1.75" fill="#3ba2dc"/>
<circle cx="113.2" cy="814.79" r="1.75" fill="#3ba2dc"/>
<circle cx="118.4" cy="814.79" r="1.75" fill="#3ba2dc"/>
<circle cx="123.6" cy="814.79" r="1.75" fill="#3ba2dc"/>
<circle cx="129.7" cy="814.79" r="1.75" fill="#3ba2dc"/>
<circle cx="144.7" cy="814.79" r="1.75" fill="#3ba2dc"/>
<circle cx="146.4" cy="814.79" r="1.75" fill="#3ba2dc"/>
<circle cx="153.4" cy="814.79" r="1.75" fill="#3ba2dc"/>
<circle cx="159.4" cy="814.79" r="1.75" fill="#3ba2dc"/>
<circle cx="164.6" cy="814.79" r="1.75" fill="#3ba2dc"/>
<circle cx="170.2" cy="814.79" r="1.75" fill="#3ba2dc"/>
<circle cx="176.7" cy="814.79" r="1.75" fill="#3ba2dc"/>
<circle cx="180.2" cy="814.79" r="1.75" fill="#3ba2dc"/>
<circle cx="188" cy="814.79" r="1.75" fill="#3ba2dc"/>
<circle cx="191.4" cy="814.79" r="1.75" fill="#3ba2dc"/>
<circle cx="198.4" cy="814.79" r="1.75" fill="#3ba2dc"/>
<circle cx="202.7" cy="814.79" r="1.75" fill="#3ba2dc"/>
<circle cx="46.1" cy="802.48" r="1.75" fill="#3ba2dc"/>
<circle cx="54" cy="802.48" r="1.75" fill="#3ba2dc"/>
<circle cx="65.6" cy="802.48" r="1.75" fill="#3ba2dc"/>
<circle cx="70" cy="802.48" r="1.75" fill="#3ba2dc"/>
<circle cx="76.9" cy="802.48" r="1.75" fill="#3ba2dc"/>
<circle cx="81.2" cy="802.48" r="1.75" fill="#3ba2dc"/>
<circle cx="88.1" cy="802.48" r="1.75" fill="#a3122e"/>
<circle cx="126.2" cy="802.48" r="1.75" fill="#3ba2dc"/>
<circle cx="131.2" cy="802.48" r="1.75" fill="#3ba2dc"/>
<circle cx="136.9" cy="802.48" r="1.75" fill="#f5c424"/>
<circle cx="142.1" cy="802.48" r="1.75" fill="#3ba2dc"/>
<circle cx="148.2" cy="802.48" r="1.75" fill="#3ba2dc"/>
<circle cx="154.2" cy="802.48" r="1.75" fill="#3ba2dc"/>
<circle cx="46.1" cy="790.17" r="1.75" fill="#e8912c"/>
<circle cx="54" cy="790.17" r="1.75" fill="#a3122e"/>
<circle cx="58.7" cy="790.17" r="1.75" fill="#a3122e"/>
<circle cx="70.3" cy="790.17" r="1.75" fill="#a3122e"/>
<circle cx="82.1" cy="790.17" r="1.75" fill="#a3122e"/>
<circle cx="86.9" cy="790.17" r="1.75" fill="#a3122e"/>
<circle cx="99.4" cy="790.17" r="1.75" fill="#a3122e"/>
<circle cx="123.6" cy="790.17" r="1.75" fill="#e8912c"/>
<circle cx="136.1" cy="790.17" r="1.75" fill="#a3122e"/>
<circle cx="158.6" cy="790.17" r="1.75" fill="#a3122e"/>
<circle cx="164.3" cy="790.17" r="1.75" fill="#a3122e"/>
<circle cx="181.6" cy="790.17" r="1.75" fill="#a3122e"/>
<circle cx="186.2" cy="790.17" r="1.75" fill="#a3122e"/>
<circle cx="190.9" cy="790.17" r="1.75" fill="#a3122e"/>
<circle cx="201.8" cy="790.17" r="1.75" fill="#a3122e"/>
<circle cx="208.7" cy="790.17" r="1.75" fill="#e8912c"/>
<circle cx="213.7" cy="790.17" r="1.75" fill="#a3122e"/>
<circle cx="219.3" cy="790.17" r="1.75" fill="#a3122e"/>
<circle cx="225.2" cy="790.17" r="1.75" fill="#a3122e"/>
<circle cx="231.6" cy="790.17" r="1.75" fill="#e8912c"/>
<circle cx="235.6" cy="790.17" r="1.75" fill="#a3122e"/>
<circle cx="242.5" cy="790.17" r="1.75" fill="#a3122e"/>
<circle cx="247.2" cy="790.17" r="1.75" fill="#a3122e"/>
<circle cx="258.5" cy="790.17" r="1.75" fill="#e8912c"/>
<circle cx="264.5" cy="790.17" r="1.75" fill="#f5c424"/>
<circle cx="269.7" cy="790.17" r="1.75" fill="#f5c424"/>
<circle cx="275.8" cy="790.17" r="1.75" fill="#3ba2dc"/>
<circle cx="280.1" cy="790.17" r="1.75" fill="#f5c424"/>
<circle cx="286.2" cy="790.17" r="1.75" fill="#f5c424"/>
<circle cx="48.8" cy="777.86" r="1.75" fill="#3ba2dc"/>
<circle cx="56.5" cy="777.86" r="1.75" fill="#a3122e"/>
<circle cx="59.6" cy="777.86" r="1.75" fill="#3ba2dc"/>
<circle cx="65.6" cy="777.86" r="1.75" fill="#3ba2dc"/>
<circle cx="76" cy="777.86" r="1.75" fill="#3ba2dc"/>
<circle cx="81.2" cy="777.86" r="1.75" fill="#3ba2dc"/>
<circle cx="87.3" cy="777.86" r="1.75" fill="#3ba2dc"/>
<circle cx="91.6" cy="777.86" r="1.75" fill="#3ba2dc"/>
<circle cx="99.4" cy="777.86" r="1.75" fill="#3ba2dc"/>
<circle cx="102.8" cy="777.86" r="1.75" fill="#e8912c"/>
<circle cx="113.2" cy="777.86" r="1.75" fill="#e8912c"/>
<circle cx="118.4" cy="777.86" r="1.75" fill="#3ba2dc"/>
<circle cx="123.6" cy="777.86" r="1.75" fill="#3ba2dc"/>
<circle cx="128.8" cy="777.86" r="1.75" fill="#3ba2dc"/>
<circle cx="133.5" cy="777.86" r="1.75" fill="#3ba2dc"/>
<circle cx="142.1" cy="777.86" r="1.75" fill="#3ba2dc"/>
<circle cx="147.3" cy="777.86" r="1.75" fill="#e8912c"/>
<circle cx="153.4" cy="777.86" r="1.75" fill="#3ba2dc"/>
<circle cx="158.6" cy="777.86" r="1.75" fill="#f5c424"/>
<circle cx="164.6" cy="777.86" r="1.75" fill="#3ba2dc"/>
<circle cx="169.5" cy="777.86" r="1.75" fill="#3ba2dc"/>
<circle cx="175" cy="777.86" r="1.75" fill="#3ba2dc"/>
<circle cx="180.5" cy="777.86" r="1.75" fill="#3ba2dc"/>
<circle cx="187.1" cy="777.86" r="1.75" fill="#3ba2dc"/>
<circle cx="191.4" cy="777.86" r="1.75" fill="#f5c424"/>
<circle cx="198.4" cy="777.86" r="1.75" fill="#f5c424"/>
<circle cx="202.7" cy="777.86" r="1.75" fill="#e8912c"/>
<circle cx="208.7" cy="777.86" r="1.75" fill="#f5c424"/>
<circle cx="213.3" cy="777.86" r="1.75" fill="#f5c424"/>
<circle cx="220" cy="777.86" r="1.75" fill="#e8912c"/>
<circle cx="48.8" cy="765.55" r="1.75" fill="#3ba2dc"/>
<circle cx="54.4" cy="765.55" r="1.75" fill="#3ba2dc"/>
<circle cx="58.2" cy="765.55" r="1.75" fill="#3ba2dc"/>
<circle cx="69.1" cy="765.55" r="1.75" fill="#3ba2dc"/>
<circle cx="70.6" cy="765.55" r="1.75" fill="#3ba2dc"/>
<circle cx="76.9" cy="765.55" r="1.75" fill="#3ba2dc"/>
<circle cx="82.1" cy="765.55" r="1.75" fill="#3ba2dc"/>
<circle cx="88.7" cy="765.55" r="1.75" fill="#e8912c"/>
<circle cx="93.3" cy="765.55" r="1.75" fill="#a3122e"/>
<circle cx="99.4" cy="765.55" r="1.75" fill="#f5c424"/>
<circle cx="102.8" cy="765.55" r="1.75" fill="#f5c424"/>
<circle cx="108.9" cy="765.55" r="1.75" fill="#f5c424"/>
<circle cx="115" cy="765.55" r="1.75" fill="#3ba2dc"/>
<circle cx="121" cy="765.55" r="1.75" fill="#e8912c"/>
<circle cx="132.6" cy="765.55" r="1.75" fill="#e8912c"/>
<circle cx="135.2" cy="765.55" r="1.75" fill="#e8912c"/>
<circle cx="142.1" cy="765.55" r="1.75" fill="#3ba2dc"/>
<circle cx="147.3" cy="765.55" r="1.75" fill="#3ba2dc"/>
<circle cx="153.4" cy="765.55" r="1.75" fill="#3ba2dc"/>
<circle cx="159.8" cy="765.55" r="1.75" fill="#f5c424"/>
<circle cx="168.1" cy="765.55" r="1.75" fill="#e8912c"/>
<circle cx="175.9" cy="765.55" r="1.75" fill="#a3122e"/>
<circle cx="180.2" cy="765.55" r="1.75" fill="#a3122e"/>
<circle cx="188" cy="765.55" r="1.75" fill="#a3122e"/>
<circle cx="192.3" cy="765.55" r="1.75" fill="#e8912c"/>
<circle cx="198.9" cy="765.55" r="1.75" fill="#a3122e"/>
<circle cx="202.7" cy="765.55" r="1.75" fill="#a3122e"/>
<circle cx="208.7" cy="765.55" r="1.75" fill="#a3122e"/>
<circle cx="213.3" cy="765.55" r="1.75" fill="#a3122e"/>
<circle cx="219.8" cy="765.55" r="1.75" fill="#a3122e"/>
<circle cx="224.7" cy="765.55" r="1.75" fill="#a3122e"/>
<circle cx="230.8" cy="765.55" r="1.75" fill="#e8912c"/>
<circle cx="236.3" cy="765.55" r="1.75" fill="#e8912c"/>
<circle cx="242.5" cy="765.55" r="1.75" fill="#a3122e"/>
<circle cx="254.1" cy="765.55" r="1.75" fill="#e8912c"/>
<circle cx="257.6" cy="765.55" r="1.75" fill="#3ba2dc"/>
<circle cx="265.4" cy="765.55" r="1.75" fill="#f5c424"/>
<circle cx="268" cy="765.55" r="1.75" fill="#f5c424"/>
<circle cx="280.1" cy="765.55" r="1.75" fill="#f5c424"/>
<circle cx="291.3" cy="765.55" r="1.75" fill="#f5c424"/>
<circle cx="298.3" cy="765.55" r="1.75" fill="#3ba2dc"/>
<circle cx="303.1" cy="765.55" r="1.75" fill="#3ba2dc"/>
<circle cx="308.8" cy="765.55" r="1.75" fill="#3ba2dc"/>
<circle cx="314.2" cy="765.55" r="1.75" fill="#3ba2dc"/>
<circle cx="320.4" cy="765.55" r="1.75" fill="#f5c424"/>
<circle cx="46.1" cy="753.24" r="1.75" fill="#3ba2dc"/>
<circle cx="48.3" cy="753.24" r="1.75" fill="#3ba2dc"/>
<circle cx="54.4" cy="753.24" r="1.75" fill="#a3122e"/>
<circle cx="58.7" cy="753.24" r="1.75" fill="#e8912c"/>
<circle cx="65.1" cy="753.24" r="1.75" fill="#3ba2dc"/>
<circle cx="69.6" cy="753.24" r="1.75" fill="#3ba2dc"/>
<circle cx="76" cy="753.24" r="1.75" fill="#3ba2dc"/>
<circle cx="80.3" cy="753.24" r="1.75" fill="#e8912c"/>
<circle cx="89" cy="753.24" r="1.75" fill="#f5c424"/>
<circle cx="93.3" cy="753.24" r="1.75" fill="#e8912c"/>
<circle cx="98.5" cy="753.24" r="1.75" fill="#f5c424"/>
<circle cx="103.7" cy="753.24" r="1.75" fill="#e8912c"/>
<circle cx="109.8" cy="753.24" r="1.75" fill="#e8912c"/>
<circle cx="115.8" cy="753.24" r="1.75" fill="#a3122e"/>
<circle cx="121.9" cy="753.24" r="1.75" fill="#e8912c"/>
<circle cx="125.7" cy="753.24" r="1.75" fill="#a3122e"/>
<circle cx="132" cy="753.24" r="1.75" fill="#a3122e"/>
<circle cx="136.9" cy="753.24" r="1.75" fill="#a3122e"/>
<circle cx="143.5" cy="753.24" r="1.75" fill="#a3122e"/>
<circle cx="147.3" cy="753.24" r="1.75" fill="#a3122e"/>
<circle cx="154.2" cy="753.24" r="1.75" fill="#a3122e"/>
<circle cx="158.6" cy="753.24" r="1.75" fill="#a3122e"/>
<circle cx="165.5" cy="753.24" r="1.75" fill="#f5c424"/>
<circle cx="169.8" cy="753.24" r="1.75" fill="#e8912c"/>
<circle cx="176.7" cy="753.24" r="1.75" fill="#f5c424"/>
<circle cx="180.2" cy="753.24" r="1.75" fill="#f5c424"/>
<circle cx="188.8" cy="753.24" r="1.75" fill="#f5c424"/>
<circle cx="192.3" cy="753.24" r="1.75" fill="#3ba2dc"/>
<circle cx="50" cy="740.93" r="1.75" fill="#3ba2dc"/>
<circle cx="55.2" cy="740.93" r="1.75" fill="#3ba2dc"/>
<circle cx="58.7" cy="740.93" r="1.75" fill="#3ba2dc"/>
<circle cx="65.6" cy="740.93" r="1.75" fill="#3ba2dc"/>
<circle cx="70" cy="740.93" r="1.75" fill="#3ba2dc"/>
<circle cx="76.9" cy="740.93" r="1.75" fill="#3ba2dc"/>
<circle cx="82.1" cy="740.93" r="1.75" fill="#3ba2dc"/>
<circle cx="89" cy="740.93" r="1.75" fill="#3ba2dc"/>
<circle cx="90.7" cy="740.93" r="1.75" fill="#3ba2dc"/>
<circle cx="99.4" cy="740.93" r="1.75" fill="#3ba2dc"/>
<circle cx="103.7" cy="740.93" r="1.75" fill="#3ba2dc"/>
<circle cx="48.3" cy="728.62" r="1.75" fill="#3ba2dc"/>
<circle cx="55.2" cy="728.62" r="1.75" fill="#f5c424"/>
<circle cx="59.9" cy="728.62" r="1.75" fill="#3ba2dc"/>
<circle cx="68.2" cy="728.62" r="1.75" fill="#a3122e"/>
<circle cx="70.3" cy="728.62" r="1.75" fill="#a3122e"/>
<circle cx="78.6" cy="728.62" r="1.75" fill="#3ba2dc"/>
<circle cx="82.9" cy="728.62" r="1.75" fill="#3ba2dc"/>
<circle cx="90.7" cy="728.62" r="1.75" fill="#3ba2dc"/>
<circle cx="99" cy="728.62" r="1.75" fill="#3ba2dc"/>
<circle cx="106.3" cy="728.62" r="1.75" fill="#e8912c"/>
<circle cx="110.6" cy="728.62" r="1.75" fill="#a3122e"/>
<circle cx="114.1" cy="728.62" r="1.75" fill="#e8912c"/>
<circle cx="121.9" cy="728.62" r="1.75" fill="#a3122e"/>
<circle cx="126.2" cy="728.62" r="1.75" fill="#3ba2dc"/>
<circle cx="132.6" cy="728.62" r="1.75" fill="#e8912c"/>
<circle cx="135.2" cy="728.62" r="1.75" fill="#e8912c"/>
<circle cx="146.4" cy="728.62" r="1.75" fill="#e8912c"/>
<circle cx="159.8" cy="728.62" r="1.75" fill="#e8912c"/>
<circle cx="170.7" cy="728.62" r="1.75" fill="#e8912c"/>
<circle cx="177.6" cy="728.62" r="1.75" fill="#3ba2dc"/>
<circle cx="181.6" cy="728.62" r="1.75" fill="#a3122e"/>
<circle cx="189.7" cy="728.62" r="1.75" fill="#e8912c"/>
<circle cx="192.3" cy="728.62" r="1.75" fill="#e8912c"/>
<circle cx="201" cy="728.62" r="1.75" fill="#e8912c"/>
<circle cx="203.6" cy="728.62" r="1.75" fill="#e8912c"/>
<circle cx="209.6" cy="728.62" r="1.75" fill="#f5c424"/>
<circle cx="214.6" cy="728.62" r="1.75" fill="#f5c424"/>
<circle cx="221.2" cy="728.62" r="1.75" fill="#3ba2dc"/>
<circle cx="226.4" cy="728.62" r="1.75" fill="#e8912c"/>
<circle cx="231.6" cy="728.62" r="1.75" fill="#3ba2dc"/>
<circle cx="236.8" cy="728.62" r="1.75" fill="#e8912c"/>
<circle cx="248.1" cy="728.62" r="1.75" fill="#e8912c"/>
<circle cx="254.1" cy="728.62" r="1.75" fill="#e8912c"/>
<circle cx="259.3" cy="728.62" r="1.75" fill="#a3122e"/>
<circle cx="265.4" cy="728.62" r="1.75" fill="#f5c424"/>
<circle cx="276.6" cy="728.62" r="1.75" fill="#e8912c"/>
<circle cx="281" cy="728.62" r="1.75" fill="#e8912c"/>
<circle cx="48.3" cy="716.31" r="1.75" fill="#3ba2dc"/>
<circle cx="56.1" cy="716.31" r="1.75" fill="#3ba2dc"/>
<circle cx="59.6" cy="716.31" r="1.75" fill="#3ba2dc"/>
<circle cx="65.6" cy="716.31" r="1.75" fill="#3ba2dc"/>
<circle cx="70.8" cy="716.31" r="1.75" fill="#3ba2dc"/>
<circle cx="76.9" cy="716.31" r="1.75" fill="#3ba2dc"/>
<circle cx="81.7" cy="716.31" r="1.75" fill="#3ba2dc"/>
<circle cx="88.1" cy="716.31" r="1.75" fill="#3ba2dc"/>
<circle cx="91.6" cy="716.31" r="1.75" fill="#3ba2dc"/>
<circle cx="99" cy="716.31" r="1.75" fill="#3ba2dc"/>
<circle cx="103.7" cy="716.31" r="1.75" fill="#f5c424"/>
<circle cx="110.6" cy="716.31" r="1.75" fill="#3ba2dc"/>
<circle cx="115" cy="716.31" r="1.75" fill="#3ba2dc"/>
<circle cx="121.9" cy="716.31" r="1.75" fill="#3ba2dc"/>
<circle cx="126.2" cy="716.31" r="1.75" fill="#3ba2dc"/>
<circle cx="131.9" cy="716.31" r="1.75" fill="#3ba2dc"/>
<circle cx="143" cy="716.31" r="1.75" fill="#3ba2dc"/>
<circle cx="147.3" cy="716.31" r="1.75" fill="#3ba2dc"/>
<circle cx="159.1" cy="716.31" r="1.75" fill="#3ba2dc"/>
<circle cx="45.7" cy="704" r="1.75" fill="#3ba2dc"/>
<circle cx="59.6" cy="704" r="1.75" fill="#3ba2dc"/>
<circle cx="70" cy="704" r="1.75" fill="#3ba2dc"/>
<circle cx="76" cy="704" r="1.75" fill="#3ba2dc"/>
<circle cx="81.2" cy="704" r="1.75" fill="#3ba2dc"/>
<circle cx="88.7" cy="704" r="1.75" fill="#3ba2dc"/>
<circle cx="99.7" cy="704" r="1.75" fill="#3ba2dc"/>
<circle cx="104.9" cy="704" r="1.75" fill="#3ba2dc"/>
<circle cx="110.6" cy="704" r="1.75" fill="#3ba2dc"/>
<circle cx="114.1" cy="704" r="1.75" fill="#3ba2dc"/>
<circle cx="121.2" cy="704" r="1.75" fill="#f5c424"/>
<circle cx="124.5" cy="704" r="1.75" fill="#3ba2dc"/>
<circle cx="126.7" cy="704" r="1.75" fill="#3ba2dc"/>
<circle cx="132.3" cy="704" r="1.75" fill="#3ba2dc"/>
<circle cx="136.2" cy="704" r="1.75" fill="#3ba2dc"/>
<circle cx="143.5" cy="704" r="1.75" fill="#3ba2dc"/>
<circle cx="147.2" cy="704" r="1.75" fill="#3ba2dc"/>
<circle cx="154.2" cy="704" r="1.75" fill="#3ba2dc"/>
<circle cx="157.5" cy="704" r="1.75" fill="#3ba2dc"/>
<circle cx="165.5" cy="704" r="1.75" fill="#3ba2dc"/>
<circle cx="169.8" cy="704" r="1.75" fill="#f5c424"/>
<circle cx="181.1" cy="704" r="1.75" fill="#3ba2dc"/>
<circle cx="45.7" cy="691.69" r="1.75" fill="#3ba2dc"/>
<circle cx="54.4" cy="691.69" r="1.75" fill="#3ba2dc"/>
<circle cx="56.5" cy="691.69" r="1.75" fill="#3ba2dc"/>
<circle cx="63.4" cy="691.69" r="1.75" fill="#3ba2dc"/>
<circle cx="69.1" cy="691.69" r="1.75" fill="#3ba2dc"/>
<circle cx="75.2" cy="691.69" r="1.75" fill="#3ba2dc"/>
<circle cx="79.5" cy="691.69" r="1.75" fill="#3ba2dc"/>
<circle cx="89.3" cy="691.69" r="1.75" fill="#3ba2dc"/>
<circle cx="97.7" cy="691.69" r="1.75" fill="#3ba2dc"/>
<circle cx="101.1" cy="691.69" r="1.75" fill="#3ba2dc"/>
<circle cx="108" cy="691.69" r="1.75" fill="#3ba2dc"/>
<circle cx="112.4" cy="691.69" r="1.75" fill="#3ba2dc"/>
<circle cx="118.4" cy="691.69" r="1.75" fill="#3ba2dc"/>
<circle cx="123.6" cy="691.69" r="1.75" fill="#3ba2dc"/>
<circle cx="128.8" cy="691.69" r="1.75" fill="#3ba2dc"/>
<circle cx="131.8" cy="691.69" r="1.75" fill="#3ba2dc"/>
<circle cx="135.2" cy="691.69" r="1.75" fill="#3ba2dc"/>
<circle cx="140.7" cy="691.69" r="1.75" fill="#3ba2dc"/>
<circle cx="145.2" cy="691.69" r="1.75" fill="#3ba2dc"/>
<circle cx="154.2" cy="691.69" r="1.75" fill="#3ba2dc"/>
<circle cx="156.8" cy="691.69" r="1.75" fill="#3ba2dc"/>
<circle cx="163.7" cy="691.69" r="1.75" fill="#3ba2dc"/>
<circle cx="168.1" cy="691.69" r="1.75" fill="#3ba2dc"/>
<circle cx="175" cy="691.69" r="1.75" fill="#3ba2dc"/>
<circle cx="180.2" cy="691.69" r="1.75" fill="#3ba2dc"/>
<circle cx="197.5" cy="691.69" r="1.75" fill="#3ba2dc"/>
<circle cx="201" cy="691.69" r="1.75" fill="#3ba2dc"/>
<circle cx="208.7" cy="691.69" r="1.75" fill="#3ba2dc"/>
<circle cx="213.1" cy="691.69" r="1.75" fill="#3ba2dc"/>
<circle cx="217.4" cy="691.69" r="1.75" fill="#3ba2dc"/>
<circle cx="221.2" cy="691.69" r="1.75" fill="#3ba2dc"/>
<circle cx="231.2" cy="691.69" r="1.75" fill="#3ba2dc"/>
<circle cx="233.7" cy="691.69" r="1.75" fill="#3ba2dc"/>
<circle cx="241.2" cy="691.69" r="1.75" fill="#3ba2dc"/>
<circle cx="245" cy="691.69" r="1.75" fill="#3ba2dc"/>
<circle cx="257.5" cy="691.69" r="1.75" fill="#3ba2dc"/>
<circle cx="265.5" cy="691.69" r="1.75" fill="#3ba2dc"/>
<circle cx="268" cy="691.69" r="1.75" fill="#3ba2dc"/>
<circle cx="276.2" cy="691.69" r="1.75" fill="#3ba2dc"/>
<circle cx="279.5" cy="691.69" r="1.75" fill="#3ba2dc"/>
<circle cx="47.8" cy="679.38" r="1.75" fill="#3ba2dc"/>
<circle cx="55.2" cy="679.38" r="1.75" fill="#a3122e"/>
<circle cx="59.2" cy="679.38" r="1.75" fill="#a3122e"/>
<circle cx="68.2" cy="679.38" r="1.75" fill="#3ba2dc"/>
<circle cx="87.6" cy="679.38" r="1.75" fill="#3ba2dc"/>
<circle cx="92.5" cy="679.38" r="1.75" fill="#3ba2dc"/>
<circle cx="98.5" cy="679.38" r="1.75" fill="#e8912c"/>
<circle cx="102.8" cy="679.38" r="1.75" fill="#e8912c"/>
<circle cx="109.8" cy="679.38" r="1.75" fill="#3ba2dc"/>
<circle cx="113.2" cy="679.38" r="1.75" fill="#3ba2dc"/>
<circle cx="121.9" cy="679.38" r="1.75" fill="#3ba2dc"/>
<circle cx="125.3" cy="679.38" r="1.75" fill="#3ba2dc"/>
<circle cx="131.4" cy="679.38" r="1.75" fill="#f5c424"/>
<circle cx="136.9" cy="679.38" r="1.75" fill="#e8912c"/>
<circle cx="143" cy="679.38" r="1.75" fill="#e8912c"/>
<circle cx="147.3" cy="679.38" r="1.75" fill="#3ba2dc"/>
<circle cx="154.2" cy="679.38" r="1.75" fill="#a3122e"/>
<circle cx="158.6" cy="679.38" r="1.75" fill="#a3122e"/>
<circle cx="165" cy="679.38" r="1.75" fill="#a3122e"/>
<circle cx="168.9" cy="679.38" r="1.75" fill="#e8912c"/>
<circle cx="181.1" cy="679.38" r="1.75" fill="#3ba2dc"/>
<circle cx="187.1" cy="679.38" r="1.75" fill="#a3122e"/>
<circle cx="192.7" cy="679.38" r="1.75" fill="#a3122e"/>
<circle cx="198.9" cy="679.38" r="1.75" fill="#e8912c"/>
<circle cx="203" cy="679.38" r="1.75" fill="#a3122e"/>
<circle cx="47.8" cy="667.07" r="1.75" fill="#3ba2dc"/>
<circle cx="53.5" cy="667.07" r="1.75" fill="#3ba2dc"/>
<circle cx="59.6" cy="667.07" r="1.75" fill="#3ba2dc"/>
<circle cx="64.8" cy="667.07" r="1.75" fill="#3ba2dc"/>
<circle cx="70" cy="667.07" r="1.75" fill="#3ba2dc"/>
<circle cx="76" cy="667.07" r="1.75" fill="#3ba2dc"/>
<circle cx="81.2" cy="667.07" r="1.75" fill="#3ba2dc"/>
<circle cx="87.3" cy="667.07" r="1.75" fill="#3ba2dc"/>
<circle cx="92.5" cy="667.07" r="1.75" fill="#3ba2dc"/>
<circle cx="99" cy="667.07" r="1.75" fill="#3ba2dc"/>
<circle cx="103.7" cy="667.07" r="1.75" fill="#3ba2dc"/>
<circle cx="108.9" cy="667.07" r="1.75" fill="#3ba2dc"/>
<circle cx="114.1" cy="667.07" r="1.75" fill="#3ba2dc"/>
<circle cx="120.2" cy="667.07" r="1.75" fill="#3ba2dc"/>
<circle cx="125.3" cy="667.07" r="1.75" fill="#3ba2dc"/>
<circle cx="131.4" cy="667.07" r="1.75" fill="#3ba2dc"/>
<circle cx="136.6" cy="667.07" r="1.75" fill="#3ba2dc"/>
<circle cx="141.8" cy="667.07" r="1.75" fill="#3ba2dc"/>
<circle cx="47.5" cy="654.76" r="1.75" fill="#3ba2dc"/>
<circle cx="52.7" cy="654.76" r="1.75" fill="#3ba2dc"/>
<circle cx="58.2" cy="654.76" r="1.75" fill="#3ba2dc"/>
<circle cx="63" cy="654.76" r="1.75" fill="#3ba2dc"/>
<circle cx="67.9" cy="654.76" r="1.75" fill="#3ba2dc"/>
<circle cx="74.3" cy="654.76" r="1.75" fill="#3ba2dc"/>
<circle cx="78.6" cy="654.76" r="1.75" fill="#3ba2dc"/>
<circle cx="85.5" cy="654.76" r="1.75" fill="#3ba2dc"/>
<circle cx="91.1" cy="654.76" r="1.75" fill="#3ba2dc"/>
<circle cx="97.7" cy="654.76" r="1.75" fill="#3ba2dc"/>
<circle cx="100.2" cy="654.76" r="1.75" fill="#3ba2dc"/>
<circle cx="108.9" cy="654.76" r="1.75" fill="#f5c424"/>
<circle cx="111.4" cy="654.76" r="1.75" fill="#3ba2dc"/>
<circle cx="118.4" cy="654.76" r="1.75" fill="#3ba2dc"/>
<circle cx="122.7" cy="654.76" r="1.75" fill="#3ba2dc"/>
<circle cx="130.7" cy="654.76" r="1.75" fill="#3ba2dc"/>
<circle cx="135.2" cy="654.76" r="1.75" fill="#3ba2dc"/>
<circle cx="140.7" cy="654.76" r="1.75" fill="#3ba2dc"/>
<circle cx="147" cy="654.76" r="1.75" fill="#3ba2dc"/>
<circle cx="155.6" cy="654.76" r="1.75" fill="#3ba2dc"/>
<circle cx="162.5" cy="654.76" r="1.75" fill="#3ba2dc"/>
<circle cx="168.1" cy="654.76" r="1.75" fill="#3ba2dc"/>
<circle cx="174.1" cy="654.76" r="1.75" fill="#3ba2dc"/>
<circle cx="46.6" cy="642.45" r="1.75" fill="#3ba2dc"/>
<circle cx="54" cy="642.45" r="1.75" fill="#e8912c"/>
<circle cx="58.2" cy="642.45" r="1.75" fill="#a3122e"/>
<circle cx="65.1" cy="642.45" r="1.75" fill="#3ba2dc"/>
<circle cx="73.4" cy="642.45" r="1.75" fill="#3ba2dc"/>
<circle cx="77.2" cy="642.45" r="1.75" fill="#3ba2dc"/>
<circle cx="82.4" cy="642.45" r="1.75" fill="#e8912c"/>
<circle cx="47.8" cy="630.14" r="1.75" fill="#3ba2dc"/>
<circle cx="53.5" cy="630.14" r="1.75" fill="#3ba2dc"/>
<circle cx="59.2" cy="630.14" r="1.75" fill="#3ba2dc"/>
<circle cx="65.1" cy="630.14" r="1.75" fill="#3ba2dc"/>
<circle cx="70.8" cy="630.14" r="1.75" fill="#3ba2dc"/>
<circle cx="76.5" cy="630.14" r="1.75" fill="#3ba2dc"/>
<circle cx="81.7" cy="630.14" r="1.75" fill="#3ba2dc"/>
<circle cx="87.6" cy="630.14" r="1.75" fill="#3ba2dc"/>
<circle cx="93.3" cy="630.14" r="1.75" fill="#3ba2dc"/>
<circle cx="99" cy="630.14" r="1.75" fill="#3ba2dc"/>
<circle cx="104.6" cy="630.14" r="1.75" fill="#3ba2dc"/>
<circle cx="109.8" cy="630.14" r="1.75" fill="#3ba2dc"/>
<circle cx="115.3" cy="630.14" r="1.75" fill="#3ba2dc"/>
<circle cx="120.7" cy="630.14" r="1.75" fill="#3ba2dc"/>
<circle cx="125.7" cy="630.14" r="1.75" fill="#3ba2dc"/>
<circle cx="131.8" cy="630.14" r="1.75" fill="#3ba2dc"/>
<circle cx="137" cy="630.14" r="1.75" fill="#3ba2dc"/>
<circle cx="142.5" cy="630.14" r="1.75" fill="#3ba2dc"/>
<circle cx="147.7" cy="630.14" r="1.75" fill="#3ba2dc"/>
<circle cx="153.2" cy="630.14" r="1.75" fill="#3ba2dc"/>
<circle cx="48.3" cy="617.83" r="1.75" fill="#3ba2dc"/>
<circle cx="55.2" cy="617.83" r="1.75" fill="#3ba2dc"/>
<circle cx="59.6" cy="617.83" r="1.75" fill="#3ba2dc"/>
<circle cx="65.6" cy="617.83" r="1.75" fill="#3ba2dc"/>
<circle cx="70.8" cy="617.83" r="1.75" fill="#3ba2dc"/>
<circle cx="81.2" cy="617.83" r="1.75" fill="#3ba2dc"/>
<circle cx="87.3" cy="617.83" r="1.75" fill="#3ba2dc"/>
<circle cx="92.5" cy="617.83" r="1.75" fill="#3ba2dc"/>
<circle cx="98.5" cy="617.83" r="1.75" fill="#3ba2dc"/>
<circle cx="104.6" cy="617.83" r="1.75" fill="#3ba2dc"/>
<circle cx="109.8" cy="617.83" r="1.75" fill="#3ba2dc"/>
<circle cx="115.3" cy="617.83" r="1.75" fill="#3ba2dc"/>
<circle cx="121.2" cy="617.83" r="1.75" fill="#3ba2dc"/>
<circle cx="126.4" cy="617.83" r="1.75" fill="#3ba2dc"/>
<circle cx="132" cy="617.83" r="1.75" fill="#3ba2dc"/>
<circle cx="47.1" cy="605.52" r="1.75" fill="#3ba2dc"/>
<circle cx="53.5" cy="605.52" r="1.75" fill="#3ba2dc"/>
<circle cx="58.7" cy="605.52" r="1.75" fill="#3ba2dc"/>
<circle cx="64.4" cy="605.52" r="1.75" fill="#3ba2dc"/>
<circle cx="70" cy="605.52" r="1.75" fill="#3ba2dc"/>
<circle cx="75.5" cy="605.52" r="1.75" fill="#3ba2dc"/>
<circle cx="81.2" cy="605.52" r="1.75" fill="#3ba2dc"/>
<circle cx="86.9" cy="605.52" r="1.75" fill="#3ba2dc"/>
<circle cx="92.5" cy="605.52" r="1.75" fill="#3ba2dc"/>
<circle cx="98.5" cy="605.52" r="1.75" fill="#3ba2dc"/>
<circle cx="108.9" cy="605.52" r="1.75" fill="#3ba2dc"/>
<circle cx="120.4" cy="605.52" r="1.75" fill="#3ba2dc"/>
<circle cx="47.1" cy="593.21" r="1.75" fill="#3ba2dc"/>
<circle cx="53.5" cy="593.21" r="1.75" fill="#3ba2dc"/>
<circle cx="58.7" cy="593.21" r="1.75" fill="#3ba2dc"/>
<circle cx="65.1" cy="593.21" r="1.75" fill="#f5c424"/>
<circle cx="69.6" cy="593.21" r="1.75" fill="#3ba2dc"/>
<circle cx="76" cy="593.21" r="1.75" fill="#3ba2dc"/>
<circle cx="81.7" cy="593.21" r="1.75" fill="#3ba2dc"/>
<circle cx="86.9" cy="593.21" r="1.75" fill="#3ba2dc"/>
<circle cx="93.3" cy="593.21" r="1.75" fill="#3ba2dc"/>
<circle cx="99" cy="593.21" r="1.75" fill="#3ba2dc"/>
<circle cx="104.6" cy="593.21" r="1.75" fill="#3ba2dc"/>
<circle cx="109.4" cy="593.21" r="1.75" fill="#3ba2dc"/>
<circle cx="114.1" cy="593.21" r="1.75" fill="#f5c424"/>
<circle cx="120.8" cy="593.21" r="1.75" fill="#3ba2dc"/>
<circle cx="125.7" cy="593.21" r="1.75" fill="#3ba2dc"/>
<circle cx="131.3" cy="593.21" r="1.75" fill="#3ba2dc"/>
<circle cx="136.4" cy="593.21" r="1.75" fill="#f5c424"/>
<circle cx="147.3" cy="593.21" r="1.75" fill="#3ba2dc"/>
<circle cx="153.7" cy="593.21" r="1.75" fill="#3ba2dc"/>
<circle cx="159.5" cy="593.21" r="1.75" fill="#3ba2dc"/>
<circle cx="165.3" cy="593.21" r="1.75" fill="#3ba2dc"/>
<circle cx="47.1" cy="580.9" r="1.75" fill="#3ba2dc"/>
<circle cx="54" cy="580.9" r="1.75" fill="#3ba2dc"/>
<circle cx="59.6" cy="580.9" r="1.75" fill="#f5c424"/>
<circle cx="65.6" cy="580.9" r="1.75" fill="#3ba2dc"/>
<circle cx="70.8" cy="580.9" r="1.75" fill="#3ba2dc"/>
<circle cx="75.2" cy="580.9" r="1.75" fill="#3ba2dc"/>
<circle cx="80.3" cy="580.9" r="1.75" fill="#a3122e"/>
<circle cx="87.3" cy="580.9" r="1.75" fill="#3ba2dc"/>
<circle cx="92.5" cy="580.9" r="1.75" fill="#3ba2dc"/>
<circle cx="98.5" cy="580.9" r="1.75" fill="#e8912c"/>
<circle cx="103.7" cy="580.9" r="1.75" fill="#e8912c"/>
<circle cx="109.4" cy="580.9" r="1.75" fill="#f5c424"/>
<circle cx="114.6" cy="580.9" r="1.75" fill="#3ba2dc"/>
<circle cx="121" cy="580.9" r="1.75" fill="#f5c424"/>
<circle cx="124.8" cy="580.9" r="1.75" fill="#f5c424"/>
<circle cx="132.2" cy="580.9" r="1.75" fill="#3ba2dc"/>
<circle cx="137.3" cy="580.9" r="1.75" fill="#3ba2dc"/>
<circle cx="142.5" cy="580.9" r="1.75" fill="#3ba2dc"/>
<circle cx="47.8" cy="568.59" r="1.75" fill="#3ba2dc"/>
<circle cx="54.4" cy="568.59" r="1.75" fill="#3ba2dc"/>
<circle cx="59.9" cy="568.59" r="1.75" fill="#3ba2dc"/>
<circle cx="65.1" cy="568.59" r="1.75" fill="#3ba2dc"/>
<circle cx="70.8" cy="568.59" r="1.75" fill="#3ba2dc"/>
<circle cx="76.9" cy="568.59" r="1.75" fill="#3ba2dc"/>
<circle cx="82.1" cy="568.59" r="1.75" fill="#3ba2dc"/>
<circle cx="87.3" cy="568.59" r="1.75" fill="#3ba2dc"/>
<circle cx="92.5" cy="568.59" r="1.75" fill="#3ba2dc"/>
<circle cx="98" cy="568.59" r="1.75" fill="#e8912c"/>
<circle cx="102.8" cy="568.59" r="1.75" fill="#3ba2dc"/>
<circle cx="108" cy="568.59" r="1.75" fill="#3ba2dc"/>
<circle cx="113.6" cy="568.59" r="1.75" fill="#f5c424"/>
<circle cx="120.2" cy="568.59" r="1.75" fill="#e8912c"/>
<circle cx="125.3" cy="568.59" r="1.75" fill="#e8912c"/>
<circle cx="132" cy="568.59" r="1.75" fill="#e8912c"/>
<circle cx="136.6" cy="568.59" r="1.75" fill="#a3122e"/>
<circle cx="143" cy="568.59" r="1.75" fill="#a3122e"/>
<circle cx="147.8" cy="568.59" r="1.75" fill="#a3122e"/>
<circle cx="158.6" cy="568.59" r="1.75" fill="#a3122e"/>
<circle cx="164.3" cy="568.59" r="1.75" fill="#a3122e"/>
<circle cx="170.2" cy="568.59" r="1.75" fill="#f5c424"/>
<circle cx="181.6" cy="568.59" r="1.75" fill="#a3122e"/>
<circle cx="187.5" cy="568.59" r="1.75" fill="#a3122e"/>
<circle cx="190.9" cy="568.59" r="1.75" fill="#a3122e"/>
<circle cx="198.4" cy="568.59" r="1.75" fill="#a3122e"/>
<circle cx="201.8" cy="568.59" r="1.75" fill="#f5c424"/>
<circle cx="210.2" cy="568.59" r="1.75" fill="#e8912c"/>
<circle cx="219.8" cy="568.59" r="1.75" fill="#3ba2dc"/>
<circle cx="53.5" cy="556.28" r="1.75" fill="#3ba2dc"/>
<circle cx="58.7" cy="556.28" r="1.75" fill="#3ba2dc"/>
<circle cx="64.4" cy="556.28" r="1.75" fill="#3ba2dc"/>
<circle cx="69.6" cy="556.28" r="1.75" fill="#3ba2dc"/>
<circle cx="75.2" cy="556.28" r="1.75" fill="#3ba2dc"/>
<circle cx="80.7" cy="556.28" r="1.75" fill="#3ba2dc"/>
<circle cx="86.4" cy="556.28" r="1.75" fill="#3ba2dc"/>
<circle cx="91.1" cy="556.28" r="1.75" fill="#3ba2dc"/>
<circle cx="96.8" cy="556.28" r="1.75" fill="#3ba2dc"/>
<circle cx="102.5" cy="556.28" r="1.75" fill="#3ba2dc"/>
<circle cx="108" cy="556.28" r="1.75" fill="#3ba2dc"/>
<circle cx="113.2" cy="556.28" r="1.75" fill="#3ba2dc"/>
<circle cx="118.8" cy="556.28" r="1.75" fill="#3ba2dc"/>
<circle cx="124" cy="556.28" r="1.75" fill="#3ba2dc"/>
<circle cx="130.3" cy="556.28" r="1.75" fill="#3ba2dc"/>
<circle cx="136.1" cy="556.28" r="1.75" fill="#3ba2dc"/>
<circle cx="141.2" cy="556.28" r="1.75" fill="#3ba2dc"/>
<circle cx="146.4" cy="556.28" r="1.75" fill="#3ba2dc"/>
<circle cx="152.2" cy="556.28" r="1.75" fill="#3ba2dc"/>
<circle cx="157.3" cy="556.28" r="1.75" fill="#3ba2dc"/>
<circle cx="162.5" cy="556.28" r="1.75" fill="#3ba2dc"/>
<circle cx="47.1" cy="543.97" r="1.75" fill="#3ba2dc"/>
<circle cx="52.7" cy="543.97" r="1.75" fill="#f5c424"/>
<circle cx="57.8" cy="543.97" r="1.75" fill="#3ba2dc"/>
<circle cx="63.9" cy="543.97" r="1.75" fill="#e8912c"/>
<circle cx="69.1" cy="543.97" r="1.75" fill="#f5c424"/>
<circle cx="74.8" cy="543.97" r="1.75" fill="#f5c424"/>
<circle cx="80" cy="543.97" r="1.75" fill="#f5c424"/>
<circle cx="85.2" cy="543.97" r="1.75" fill="#f5c424"/>
<circle cx="90.4" cy="543.97" r="1.75" fill="#f5c424"/>
<circle cx="95.9" cy="543.97" r="1.75" fill="#f5c424"/>
<circle cx="100.8" cy="543.97" r="1.75" fill="#3ba2dc"/>
<circle cx="108" cy="543.97" r="1.75" fill="#3ba2dc"/>
<circle cx="112.5" cy="543.97" r="1.75" fill="#f5c424"/>
<circle cx="122.8" cy="543.97" r="1.75" fill="#e8912c"/>
<circle cx="139.6" cy="543.97" r="1.75" fill="#3ba2dc"/>
<circle cx="145.7" cy="543.97" r="1.75" fill="#3ba2dc"/>
<circle cx="152.7" cy="543.97" r="1.75" fill="#3ba2dc"/>
<circle cx="156.6" cy="543.97" r="1.75" fill="#3ba2dc"/>
<circle cx="162.1" cy="543.97" r="1.75" fill="#3ba2dc"/>
<circle cx="174" cy="543.97" r="1.75" fill="#3ba2dc"/>
<circle cx="186.2" cy="543.97" r="1.75" fill="#e8912c"/>
<circle cx="47.8" cy="531.66" r="1.75" fill="#3ba2dc"/>
<circle cx="54.7" cy="531.66" r="1.75" fill="#3ba2dc"/>
<circle cx="65.6" cy="531.66" r="1.75" fill="#3ba2dc"/>
<circle cx="76.9" cy="531.66" r="1.75" fill="#3ba2dc"/>
<circle cx="81.7" cy="531.66" r="1.75" fill="#3ba2dc"/>
<circle cx="88.7" cy="531.66" r="1.75" fill="#3ba2dc"/>
<circle cx="93.3" cy="531.66" r="1.75" fill="#3ba2dc"/>
<circle cx="99" cy="531.66" r="1.75" fill="#3ba2dc"/>
<circle cx="104.2" cy="531.66" r="1.75" fill="#f5c424"/>
<circle cx="110.1" cy="531.66" r="1.75" fill="#3ba2dc"/>
<circle cx="115.3" cy="531.66" r="1.75" fill="#e8912c"/>
<circle cx="122.7" cy="531.66" r="1.75" fill="#f5c424"/>
<circle cx="125.7" cy="531.66" r="1.75" fill="#f5c424"/>
<circle cx="131.7" cy="531.66" r="1.75" fill="#a3122e"/>
<circle cx="136.9" cy="531.66" r="1.75" fill="#a3122e"/>
<circle cx="142.5" cy="531.66" r="1.75" fill="#f5c424"/>
<circle cx="155.6" cy="531.66" r="1.75" fill="#a3122e"/>
<circle cx="160.3" cy="531.66" r="1.75" fill="#3ba2dc"/>
<circle cx="168.4" cy="531.66" r="1.75" fill="#e8912c"/>
<circle cx="176.4" cy="531.66" r="1.75" fill="#3ba2dc"/>
<circle cx="188" cy="531.66" r="1.75" fill="#e8912c"/>
<circle cx="47.8" cy="519.35" r="1.75" fill="#3ba2dc"/>
<circle cx="55.2" cy="519.35" r="1.75" fill="#3ba2dc"/>
<circle cx="59.7" cy="519.35" r="1.75" fill="#e8912c"/>
<circle cx="66.5" cy="519.35" r="1.75" fill="#3ba2dc"/>
<circle cx="69" cy="519.35" r="1.75" fill="#3ba2dc"/>
<circle cx="71.5" cy="519.35" r="1.75" fill="#3ba2dc"/>
<circle cx="77.1" cy="519.35" r="1.75" fill="#3ba2dc"/>
<circle cx="81.9" cy="519.35" r="1.75" fill="#e8912c"/>
<circle cx="89.5" cy="519.35" r="1.75" fill="#e8912c"/>
<circle cx="94" cy="519.35" r="1.75" fill="#3ba2dc"/>
<circle cx="98.8" cy="519.35" r="1.75" fill="#e8912c"/>
<circle cx="103.7" cy="519.35" r="1.75" fill="#a3122e"/>
<circle cx="109.4" cy="519.35" r="1.75" fill="#a3122e"/>
<circle cx="121.9" cy="519.35" r="1.75" fill="#a3122e"/>
<circle cx="126.2" cy="519.35" r="1.75" fill="#a3122e"/>
<circle cx="133.5" cy="519.35" r="1.75" fill="#a3122e"/>
<circle cx="136" cy="519.35" r="1.75" fill="#a3122e"/>
<path d="M44.7 510.6V835.9H491.2" fill="none" stroke="#151515" stroke-width="1.4"/>
<path d="M41 827.1H44.7" stroke="#151515" stroke-width="1.1"/>
<text x="36.4" y="830.6" font-size="9.8" text-anchor="end" fill="#2a2a2a" >1</text>
<path d="M41 814.79H44.7" stroke="#151515" stroke-width="1.1"/>
<text x="36.4" y="818.29" font-size="9.8" text-anchor="end" fill="#2a2a2a" >2</text>
<path d="M41 802.48H44.7" stroke="#151515" stroke-width="1.1"/>
<text x="36.4" y="805.98" font-size="9.8" text-anchor="end" fill="#2a2a2a" >3</text>
<path d="M41 790.17H44.7" stroke="#151515" stroke-width="1.1"/>
<text x="36.4" y="793.67" font-size="9.8" text-anchor="end" fill="#2a2a2a" >4</text>
<path d="M41 777.86H44.7" stroke="#151515" stroke-width="1.1"/>
<text x="36.4" y="781.36" font-size="9.8" text-anchor="end" fill="#2a2a2a" >5</text>
<path d="M41 765.55H44.7" stroke="#151515" stroke-width="1.1"/>
<text x="36.4" y="769.05" font-size="9.8" text-anchor="end" fill="#2a2a2a" >6</text>
<path d="M41 753.24H44.7" stroke="#151515" stroke-width="1.1"/>
<text x="36.4" y="756.74" font-size="9.8" text-anchor="end" fill="#2a2a2a" >7</text>
<path d="M41 740.93H44.7" stroke="#151515" stroke-width="1.1"/>
<text x="36.4" y="744.43" font-size="9.8" text-anchor="end" fill="#2a2a2a" >8</text>
<path d="M41 728.62H44.7" stroke="#151515" stroke-width="1.1"/>
<text x="36.4" y="732.12" font-size="9.8" text-anchor="end" fill="#2a2a2a" >9</text>
<path d="M41 716.31H44.7" stroke="#151515" stroke-width="1.1"/>
<text x="36.4" y="719.81" font-size="9.8" text-anchor="end" fill="#2a2a2a" >10</text>
<path d="M41 704H44.7" stroke="#151515" stroke-width="1.1"/>
<text x="36.4" y="707.5" font-size="9.8" text-anchor="end" fill="#2a2a2a" >11</text>
<path d="M41 691.69H44.7" stroke="#151515" stroke-width="1.1"/>
<text x="36.4" y="695.19" font-size="9.8" text-anchor="end" fill="#2a2a2a" >12</text>
<path d="M41 679.38H44.7" stroke="#151515" stroke-width="1.1"/>
<text x="36.4" y="682.88" font-size="9.8" text-anchor="end" fill="#2a2a2a" >13</text>
<path d="M41 667.07H44.7" stroke="#151515" stroke-width="1.1"/>
<text x="36.4" y="670.57" font-size="9.8" text-anchor="end" fill="#2a2a2a" >14</text>
<path d="M41 654.76H44.7" stroke="#151515" stroke-width="1.1"/>
<text x="36.4" y="658.26" font-size="9.8" text-anchor="end" fill="#2a2a2a" >15</text>
<path d="M41 642.45H44.7" stroke="#151515" stroke-width="1.1"/>
<text x="36.4" y="645.95" font-size="9.8" text-anchor="end" fill="#2a2a2a" >16</text>
<path d="M41 630.14H44.7" stroke="#151515" stroke-width="1.1"/>
<text x="36.4" y="633.64" font-size="9.8" text-anchor="end" fill="#2a2a2a" >17</text>
<path d="M41 617.83H44.7" stroke="#151515" stroke-width="1.1"/>
<text x="36.4" y="621.33" font-size="9.8" text-anchor="end" fill="#2a2a2a" >18</text>
<path d="M41 605.52H44.7" stroke="#151515" stroke-width="1.1"/>
<text x="36.4" y="609.02" font-size="9.8" text-anchor="end" fill="#2a2a2a" >19</text>
<path d="M41 593.21H44.7" stroke="#151515" stroke-width="1.1"/>
<text x="36.4" y="596.71" font-size="9.8" text-anchor="end" fill="#2a2a2a" >20</text>
<path d="M41 580.9H44.7" stroke="#151515" stroke-width="1.1"/>
<text x="36.4" y="584.4" font-size="9.8" text-anchor="end" fill="#2a2a2a" >21</text>
<path d="M41 568.59H44.7" stroke="#151515" stroke-width="1.1"/>
<text x="36.4" y="572.09" font-size="9.8" text-anchor="end" fill="#2a2a2a" >22</text>
<path d="M41 556.28H44.7" stroke="#151515" stroke-width="1.1"/>
<text x="36.4" y="559.78" font-size="9.8" text-anchor="end" fill="#2a2a2a" >23</text>
<path d="M41 543.97H44.7" stroke="#151515" stroke-width="1.1"/>
<text x="36.4" y="547.47" font-size="9.8" text-anchor="end" fill="#2a2a2a" >24</text>
<path d="M41 531.66H44.7" stroke="#151515" stroke-width="1.1"/>
<text x="36.4" y="535.16" font-size="9.8" text-anchor="end" fill="#2a2a2a" >25</text>
<path d="M41 519.35H44.7" stroke="#151515" stroke-width="1.1"/>
<text x="36.4" y="522.85" font-size="9.8" text-anchor="end" fill="#2a2a2a" >26</text>
<path d="M44.9 835.9V839.2" stroke="#151515" stroke-width="1.1"/>
<text x="44.9" y="851.5" font-size="9.9" text-anchor="middle" fill="#2a2a2a" >0</text>
<path d="M100.15 835.9V839.2" stroke="#151515" stroke-width="1.1"/>
<text x="100.15" y="851.5" font-size="9.9" text-anchor="middle" fill="#2a2a2a" >5</text>
<path d="M155.4 835.9V839.2" stroke="#151515" stroke-width="1.1"/>
<text x="155.4" y="851.5" font-size="9.9" text-anchor="middle" fill="#2a2a2a" >10</text>
<path d="M210.65 835.9V839.2" stroke="#151515" stroke-width="1.1"/>
<text x="210.65" y="851.5" font-size="9.9" text-anchor="middle" fill="#2a2a2a" >15</text>
<path d="M265.9 835.9V839.2" stroke="#151515" stroke-width="1.1"/>
<text x="265.9" y="851.5" font-size="9.9" text-anchor="middle" fill="#2a2a2a" >20</text>
<path d="M321.15 835.9V839.2" stroke="#151515" stroke-width="1.1"/>
<text x="321.15" y="851.5" font-size="9.9" text-anchor="middle" fill="#2a2a2a" >25</text>
<path d="M376.4 835.9V839.2" stroke="#151515" stroke-width="1.1"/>
<text x="376.4" y="851.5" font-size="9.9" text-anchor="middle" fill="#2a2a2a" >30</text>
<path d="M431.65 835.9V839.2" stroke="#151515" stroke-width="1.1"/>
<text x="431.65" y="851.5" font-size="9.9" text-anchor="middle" fill="#2a2a2a" >35</text>
<path d="M486.9 835.9V839.2" stroke="#151515" stroke-width="1.1"/>
<text x="486.9" y="851.5" font-size="9.9" text-anchor="middle" fill="#2a2a2a" >40</text>
<text x="268" y="868.4" font-size="11.6" text-anchor="middle" fill="#222" textLength="68.2" lengthAdjust="spacingAndGlyphs" stroke="#222" stroke-width="0.42" >Days after infusion</text>
<text x="18.9" y="672.8" font-size="11.3" text-anchor="middle" fill="#222" textLength="24.8" lengthAdjust="spacingAndGlyphs" transform="rotate(-90 18.9 672.8)" stroke="#222" stroke-width="0.42" >Patient</text>
<rect x="395" y="518.3" width="15.8" height="4.3" fill="#8b94ba"/>
<rect x="395" y="533.2" width="15.8" height="4.2" fill="#c5c5c8"/>
<circle cx="402.8" cy="550.4" r="1.75" fill="#3ba2dc"/>
<circle cx="402.8" cy="564.9" r="1.75" fill="#f5c424"/>
<circle cx="402.8" cy="580.2" r="1.75" fill="#e8912c"/>
<circle cx="402.8" cy="594.6" r="1.75" fill="#a3122e"/>
<text x="414.5" y="522.9" font-size="9.95" text-anchor="start" fill="#222" textLength="76.4" lengthAdjust="spacingAndGlyphs" >Any grade ICANS</text>
<text x="414.5" y="537.6" font-size="9.95" text-anchor="start" fill="#222" >No ICANS</text>
<text x="414.5" y="553.6" font-size="9.95" text-anchor="start" fill="#222" >PDA score 1 or 2</text>
<text x="414.5" y="568.1" font-size="9.95" text-anchor="start" fill="#222" >PDA score 3</text>
<text x="414.5" y="583.4" font-size="9.95" text-anchor="start" fill="#222" >PDA score 4</text>
<text x="414.5" y="597.8" font-size="9.95" text-anchor="start" fill="#222" >PDA score 5</text>
<rect x="0.5" y="0.5" width="519" height="879" fill="none" stroke="#424242" stroke-width="1"/>
</svg></body></html>
